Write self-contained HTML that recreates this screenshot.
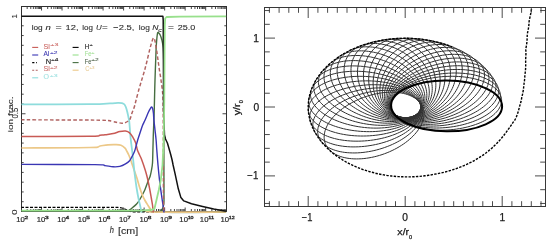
<!DOCTYPE html><html><head><meta charset="utf-8"><style>html,body{margin:0;padding:0;background:#fff;}svg{will-change:transform;}svg{display:block;}text{font-family:"Liberation Sans",sans-serif;}</style></head><body>
<svg width="550" height="244" viewBox="0 0 550 244">
<defs><clipPath id="lc"><rect x="21.5" y="6.5" width="205.0" height="206.8"/></clipPath><clipPath id="rc"><rect x="264.5" y="7.1" width="280.8" height="199.4"/></clipPath></defs>
<g stroke="#303030" stroke-width="1" fill="none">
<rect x="21.5" y="6.5" width="205.0" height="205.0"/>
<path d="M27.18 6.50v2.50 M27.18 211.50v-2.50 M30.79 6.50v2.50 M30.79 211.50v-2.50 M33.35 6.50v2.50 M33.35 211.50v-2.50 M35.34 6.50v2.50 M35.34 211.50v-2.50 M36.97 6.50v2.50 M36.97 211.50v-2.50 M38.34 6.50v2.50 M38.34 211.50v-2.50 M39.53 6.50v2.50 M39.53 211.50v-2.50 M40.58 6.50v2.50 M40.58 211.50v-2.50 M41.52 6.50v4.00 M41.52 211.50v-4.00 M47.70 6.50v2.50 M47.70 211.50v-2.50 M51.31 6.50v2.50 M51.31 211.50v-2.50 M53.87 6.50v2.50 M53.87 211.50v-2.50 M55.86 6.50v2.50 M55.86 211.50v-2.50 M57.49 6.50v2.50 M57.49 211.50v-2.50 M58.86 6.50v2.50 M58.86 211.50v-2.50 M60.05 6.50v2.50 M60.05 211.50v-2.50 M61.10 6.50v2.50 M61.10 211.50v-2.50 M62.04 6.50v4.00 M62.04 211.50v-4.00 M68.22 6.50v2.50 M68.22 211.50v-2.50 M71.83 6.50v2.50 M71.83 211.50v-2.50 M74.39 6.50v2.50 M74.39 211.50v-2.50 M76.38 6.50v2.50 M76.38 211.50v-2.50 M78.01 6.50v2.50 M78.01 211.50v-2.50 M79.38 6.50v2.50 M79.38 211.50v-2.50 M80.57 6.50v2.50 M80.57 211.50v-2.50 M81.62 6.50v2.50 M81.62 211.50v-2.50 M82.56 6.50v4.00 M82.56 211.50v-4.00 M88.74 6.50v2.50 M88.74 211.50v-2.50 M92.35 6.50v2.50 M92.35 211.50v-2.50 M94.91 6.50v2.50 M94.91 211.50v-2.50 M96.90 6.50v2.50 M96.90 211.50v-2.50 M98.53 6.50v2.50 M98.53 211.50v-2.50 M99.90 6.50v2.50 M99.90 211.50v-2.50 M101.09 6.50v2.50 M101.09 211.50v-2.50 M102.14 6.50v2.50 M102.14 211.50v-2.50 M103.08 6.50v4.00 M103.08 211.50v-4.00 M109.26 6.50v2.50 M109.26 211.50v-2.50 M112.87 6.50v2.50 M112.87 211.50v-2.50 M115.43 6.50v2.50 M115.43 211.50v-2.50 M117.42 6.50v2.50 M117.42 211.50v-2.50 M119.05 6.50v2.50 M119.05 211.50v-2.50 M120.42 6.50v2.50 M120.42 211.50v-2.50 M121.61 6.50v2.50 M121.61 211.50v-2.50 M122.66 6.50v2.50 M122.66 211.50v-2.50 M123.60 6.50v4.00 M123.60 211.50v-4.00 M129.78 6.50v2.50 M129.78 211.50v-2.50 M133.39 6.50v2.50 M133.39 211.50v-2.50 M135.95 6.50v2.50 M135.95 211.50v-2.50 M137.94 6.50v2.50 M137.94 211.50v-2.50 M139.57 6.50v2.50 M139.57 211.50v-2.50 M140.94 6.50v2.50 M140.94 211.50v-2.50 M142.13 6.50v2.50 M142.13 211.50v-2.50 M143.18 6.50v2.50 M143.18 211.50v-2.50 M144.12 6.50v4.00 M144.12 211.50v-4.00 M150.30 6.50v2.50 M150.30 211.50v-2.50 M153.91 6.50v2.50 M153.91 211.50v-2.50 M156.47 6.50v2.50 M156.47 211.50v-2.50 M158.46 6.50v2.50 M158.46 211.50v-2.50 M160.09 6.50v2.50 M160.09 211.50v-2.50 M161.46 6.50v2.50 M161.46 211.50v-2.50 M162.65 6.50v2.50 M162.65 211.50v-2.50 M163.70 6.50v2.50 M163.70 211.50v-2.50 M164.64 6.50v4.00 M164.64 211.50v-4.00 M170.82 6.50v2.50 M170.82 211.50v-2.50 M174.43 6.50v2.50 M174.43 211.50v-2.50 M176.99 6.50v2.50 M176.99 211.50v-2.50 M178.98 6.50v2.50 M178.98 211.50v-2.50 M180.61 6.50v2.50 M180.61 211.50v-2.50 M181.98 6.50v2.50 M181.98 211.50v-2.50 M183.17 6.50v2.50 M183.17 211.50v-2.50 M184.22 6.50v2.50 M184.22 211.50v-2.50 M185.16 6.50v4.00 M185.16 211.50v-4.00 M191.34 6.50v2.50 M191.34 211.50v-2.50 M194.95 6.50v2.50 M194.95 211.50v-2.50 M197.51 6.50v2.50 M197.51 211.50v-2.50 M199.50 6.50v2.50 M199.50 211.50v-2.50 M201.13 6.50v2.50 M201.13 211.50v-2.50 M202.50 6.50v2.50 M202.50 211.50v-2.50 M203.69 6.50v2.50 M203.69 211.50v-2.50 M204.74 6.50v2.50 M204.74 211.50v-2.50 M205.68 6.50v4.00 M205.68 211.50v-4.00 M211.86 6.50v2.50 M211.86 211.50v-2.50 M215.47 6.50v2.50 M215.47 211.50v-2.50 M218.03 6.50v2.50 M218.03 211.50v-2.50 M220.02 6.50v2.50 M220.02 211.50v-2.50 M221.65 6.50v2.50 M221.65 211.50v-2.50 M223.02 6.50v2.50 M223.02 211.50v-2.50 M224.21 6.50v2.50 M224.21 211.50v-2.50 M225.26 6.50v2.50 M225.26 211.50v-2.50 M21.50 201.72h2.20 M226.50 201.72h-2.20 M21.50 191.95h2.20 M226.50 191.95h-2.20 M21.50 182.18h2.20 M226.50 182.18h-2.20 M21.50 172.40h2.20 M226.50 172.40h-2.20 M21.50 162.62h2.20 M226.50 162.62h-2.20 M21.50 152.85h2.20 M226.50 152.85h-2.20 M21.50 143.07h2.20 M226.50 143.07h-2.20 M21.50 133.30h2.20 M226.50 133.30h-2.20 M21.50 123.52h2.20 M226.50 123.52h-2.20 M21.50 113.75h4.00 M226.50 113.75h-4.00 M21.50 103.97h2.20 M226.50 103.97h-2.20 M21.50 94.20h2.20 M226.50 94.20h-2.20 M21.50 84.42h2.20 M226.50 84.42h-2.20 M21.50 74.65h2.20 M226.50 74.65h-2.20 M21.50 64.88h2.20 M226.50 64.88h-2.20 M21.50 55.10h2.20 M226.50 55.10h-2.20 M21.50 45.32h2.20 M226.50 45.32h-2.20 M21.50 35.55h2.20 M226.50 35.55h-2.20 M21.50 25.77h2.20 M226.50 25.77h-2.20" stroke-width="0.9"/>
</g>
<g clip-path="url(#lc)" fill="none" stroke-linejoin="round">
<path d="M21.00 207.40 L118.00 207.40 L122.00 208.00 L126.00 209.50 L132.00 212.00 L226.20 212.00" stroke="#000" stroke-width="1.20" stroke-dasharray="3 1.5"/>
<path d="M21.00 210.60 C38.50 210.60 107.93 210.70 126.00 210.60 C144.07 210.50 128.23 210.57 129.40 210.00 C130.57 209.43 131.80 208.20 133.00 207.20 C134.20 206.20 135.52 205.20 136.60 204.00 C137.68 202.80 138.55 201.50 139.50 200.00 C140.45 198.50 141.38 196.75 142.30 195.00 C143.22 193.25 144.15 191.50 145.00 189.50 C145.85 187.50 146.73 184.75 147.40 183.00 C148.07 181.25 148.53 180.17 149.00 179.00 C149.47 177.83 149.78 177.50 150.20 176.00 C150.62 174.50 151.12 172.17 151.50 170.00 C151.88 167.83 152.27 166.33 152.50 163.00 C152.73 159.67 152.77 154.67 152.90 150.00 C153.03 145.33 153.10 140.83 153.30 135.00 C153.50 129.17 153.88 121.67 154.10 115.00 C154.32 108.33 154.45 100.83 154.60 95.00 C154.75 89.17 154.82 85.83 155.00 80.00 C155.18 74.17 155.50 65.50 155.70 60.00 C155.90 54.50 156.02 50.50 156.20 47.00 C156.38 43.50 156.62 41.08 156.80 39.00 C156.98 36.92 157.13 35.58 157.30 34.50 C157.47 33.42 157.58 32.78 157.80 32.50 C158.02 32.22 158.20 32.38 158.60 32.80 C159.00 33.22 159.65 33.80 160.20 35.00 C160.75 36.20 161.43 38.17 161.90 40.00 C162.37 41.83 162.73 44.00 163.00 46.00 C163.27 48.00 163.37 48.00 163.50 52.00 C163.63 56.00 163.73 58.67 163.80 70.00 C163.87 81.33 163.87 98.33 163.90 120.00 C163.93 141.67 163.82 184.67 164.00 200.00 C164.18 215.33 154.63 210.00 165.00 212.00 C175.37 214.00 216.00 212.00 226.20 212.00" stroke="#466e40" stroke-width="1.40"/>
<path d="M21.00 148.00 C32.50 147.92 76.83 147.83 90.00 147.50 C103.17 147.17 97.00 146.45 100.00 146.00 C103.00 145.55 105.33 145.03 108.00 144.80 C110.67 144.57 113.83 144.52 116.00 144.60 C118.17 144.68 119.50 144.70 121.00 145.30 C122.50 145.90 124.00 147.17 125.00 148.20 C126.00 149.23 126.33 150.28 127.00 151.50 C127.67 152.72 128.38 154.08 129.00 155.50 C129.62 156.92 130.13 158.42 130.70 160.00 C131.27 161.58 131.83 163.33 132.40 165.00 C132.97 166.67 133.35 167.83 134.10 170.00 C134.85 172.17 136.00 175.17 136.90 178.00 C137.80 180.83 138.60 184.17 139.50 187.00 C140.40 189.83 141.38 192.75 142.30 195.00 C143.22 197.25 144.03 198.75 145.00 200.50 C145.97 202.25 147.23 204.12 148.10 205.50 C148.97 206.88 149.57 207.72 150.20 208.80 C150.83 209.88 139.23 211.47 151.90 212.00 C164.57 212.53 213.82 212.00 226.20 212.00" stroke="#ecc888" stroke-width="1.70"/>
<path d="M21.00 104.30 C32.50 104.28 75.17 104.35 90.00 104.20 C104.83 104.05 105.33 103.62 110.00 103.40 C114.67 103.18 116.00 102.93 118.00 102.90 C120.00 102.87 120.92 102.93 122.00 103.20 C123.08 103.47 123.83 103.78 124.50 104.50 C125.17 105.22 125.53 106.25 126.00 107.50 C126.47 108.75 126.92 110.50 127.30 112.00 C127.68 113.50 127.98 115.00 128.30 116.50 C128.62 118.00 128.95 119.08 129.20 121.00 C129.45 122.92 129.60 125.50 129.80 128.00 C130.00 130.50 130.15 133.33 130.40 136.00 C130.65 138.67 130.98 141.33 131.30 144.00 C131.62 146.67 131.98 149.33 132.30 152.00 C132.62 154.67 132.92 157.33 133.20 160.00 C133.48 162.67 133.67 165.00 134.00 168.00 C134.33 171.00 134.77 174.67 135.20 178.00 C135.63 181.33 136.10 184.83 136.60 188.00 C137.10 191.17 137.63 194.17 138.20 197.00 C138.77 199.83 139.43 202.42 140.00 205.00 C140.57 207.58 141.33 211.25 141.60 212.50" stroke="#8edcdc" stroke-width="1.80"/>
<path d="M21.00 136.60 C32.50 136.55 76.83 136.52 90.00 136.30 C103.17 136.08 97.50 135.55 100.00 135.30 C102.50 135.05 102.80 135.08 105.00 134.80 C107.20 134.52 110.73 134.13 113.20 133.60 C115.67 133.07 117.75 132.02 119.80 131.60 C121.85 131.18 123.87 130.90 125.50 131.10 C127.13 131.30 128.37 131.77 129.60 132.80 C130.83 133.83 131.88 135.60 132.90 137.30 C133.92 139.00 134.95 140.88 135.70 143.00 C136.45 145.12 136.75 148.00 137.40 150.00 C138.05 152.00 138.87 153.33 139.60 155.00 C140.33 156.67 140.87 157.50 141.80 160.00 C142.73 162.50 144.27 167.00 145.20 170.00 C146.13 173.00 146.68 175.00 147.40 178.00 C148.12 181.00 148.85 184.67 149.50 188.00 C150.15 191.33 150.80 195.17 151.30 198.00 C151.80 200.83 152.17 202.58 152.50 205.00 C152.83 207.42 153.17 211.25 153.30 212.50" stroke="#c85a55" stroke-width="1.50"/>
<path d="M21.00 164.40 C33.33 164.43 81.00 164.40 95.00 164.60 C109.00 164.80 101.97 165.23 105.00 165.60 C108.03 165.97 110.73 166.67 113.20 166.80 C115.67 166.93 117.75 166.88 119.80 166.40 C121.85 165.92 123.87 164.85 125.50 163.90 C127.13 162.95 128.52 161.92 129.60 160.70 C130.68 159.48 131.18 158.12 132.00 156.60 C132.82 155.08 133.82 153.37 134.50 151.60 C135.18 149.83 135.57 147.93 136.10 146.00 C136.63 144.07 137.00 142.33 137.70 140.00 C138.40 137.67 139.47 134.50 140.30 132.00 C141.13 129.50 141.90 127.00 142.70 125.00 C143.50 123.00 144.13 122.17 145.10 120.00 C146.07 117.83 147.60 113.95 148.50 112.00 C149.40 110.05 149.98 109.13 150.50 108.30 C151.02 107.47 151.25 106.97 151.60 107.00 C151.95 107.03 152.30 107.50 152.60 108.50 C152.90 109.50 153.18 111.08 153.40 113.00 C153.62 114.92 153.63 117.17 153.90 120.00 C154.17 122.83 154.63 126.67 155.00 130.00 C155.37 133.33 155.80 136.67 156.10 140.00 C156.40 143.33 156.48 145.83 156.80 150.00 C157.12 154.17 157.55 160.00 158.00 165.00 C158.45 170.00 158.92 175.00 159.50 180.00 C160.08 185.00 160.92 190.83 161.50 195.00 C162.08 199.17 162.58 202.08 163.00 205.00 C163.42 207.92 163.83 211.25 164.00 212.50" stroke="#3a36b4" stroke-width="1.40"/>
<path d="M21.00 119.80 C34.17 119.87 84.83 119.92 100.00 120.20 C115.17 120.48 109.00 121.10 112.00 121.50 C115.00 121.90 116.33 122.32 118.00 122.60 C119.67 122.88 120.83 123.17 122.00 123.20 C123.17 123.23 124.08 123.08 125.00 122.80 C125.92 122.52 126.68 122.05 127.50 121.50 C128.32 120.95 129.15 120.92 129.90 119.50 C130.65 118.08 131.27 115.08 132.00 113.00 C132.73 110.92 133.62 109.17 134.30 107.00 C134.98 104.83 135.27 103.17 136.10 100.00 C136.93 96.83 138.32 91.50 139.30 88.00 C140.28 84.50 141.10 82.00 142.00 79.00 C142.90 76.00 143.87 73.00 144.70 70.00 C145.53 67.00 146.18 64.33 147.00 61.00 C147.82 57.67 148.85 53.00 149.60 50.00 C150.35 47.00 150.93 44.90 151.50 43.00 C152.07 41.10 152.58 39.40 153.00 38.60 C153.42 37.80 153.67 37.80 154.00 38.20 C154.33 38.60 154.57 39.03 155.00 41.00 C155.43 42.97 156.10 46.83 156.60 50.00 C157.10 53.17 157.53 56.67 158.00 60.00 C158.47 63.33 158.90 66.67 159.40 70.00 C159.90 73.33 160.52 76.67 161.00 80.00 C161.48 83.33 161.97 86.67 162.30 90.00 C162.63 93.33 162.83 93.33 163.00 100.00 C163.17 106.67 163.22 113.33 163.30 130.00 C163.38 146.67 163.33 186.25 163.50 200.00 C163.67 213.75 164.17 210.42 164.30 212.50" stroke="#b06260" stroke-width="1.45" stroke-dasharray="3.6 2.2"/>
<path d="M21.00 16.20 L162.90 16.20 L163.20 20.00 L163.40 60.00 L163.60 110.00 L164.10 125.00 L164.50 134.80 L165.50 139.00 L167.40 143.00 L169.00 148.50 L170.70 154.50 L172.10 160.00 L173.10 165.00 L175.00 173.30 L178.30 188.80 L180.90 197.60 L183.80 200.90 L191.50 203.80 L202.60 206.50 L213.70 209.10 L224.70 210.90 L226.20 211.30" stroke="#111" stroke-width="1.50"/>
<path d="M21.00 210.60 L140.00 210.60 L150.00 210.00 L153.00 209.50 L154.50 208.50 L156.50 200.00 L158.80 190.00 L160.80 180.00 L162.50 165.00 L163.70 140.00 L164.30 100.00 L164.60 50.00 L164.80 25.00 L165.20 18.50 L166.50 17.00 L180.00 16.60 L226.20 16.40" stroke="#98e08c" stroke-width="1.80"/>
</g>
<g fill="#2a2a2a" stroke="#2a2a2a" stroke-width="0.1">
<text x="16.30" y="222.00" font-size="7.30" textLength="8.60" lengthAdjust="spacingAndGlyphs" stroke-width="0.18">10</text>
<text x="24.60" y="219.40" font-size="4.20" textLength="3.70" lengthAdjust="spacingAndGlyphs" stroke-width="0.3">2</text>
<text x="36.82" y="222.00" font-size="7.30" textLength="8.60" lengthAdjust="spacingAndGlyphs" stroke-width="0.18">10</text>
<text x="45.12" y="219.40" font-size="4.20" textLength="3.70" lengthAdjust="spacingAndGlyphs" stroke-width="0.3">3</text>
<text x="57.34" y="222.00" font-size="7.30" textLength="8.60" lengthAdjust="spacingAndGlyphs" stroke-width="0.18">10</text>
<text x="65.64" y="219.40" font-size="4.20" textLength="3.70" lengthAdjust="spacingAndGlyphs" stroke-width="0.3">4</text>
<text x="77.86" y="222.00" font-size="7.30" textLength="8.60" lengthAdjust="spacingAndGlyphs" stroke-width="0.18">10</text>
<text x="86.16" y="219.40" font-size="4.20" textLength="3.70" lengthAdjust="spacingAndGlyphs" stroke-width="0.3">5</text>
<text x="98.38" y="222.00" font-size="7.30" textLength="8.60" lengthAdjust="spacingAndGlyphs" stroke-width="0.18">10</text>
<text x="106.68" y="219.40" font-size="4.20" textLength="3.70" lengthAdjust="spacingAndGlyphs" stroke-width="0.3">6</text>
<text x="118.90" y="222.00" font-size="7.30" textLength="8.60" lengthAdjust="spacingAndGlyphs" stroke-width="0.18">10</text>
<text x="127.20" y="219.40" font-size="4.20" textLength="3.70" lengthAdjust="spacingAndGlyphs" stroke-width="0.3">7</text>
<text x="139.42" y="222.00" font-size="7.30" textLength="8.60" lengthAdjust="spacingAndGlyphs" stroke-width="0.18">10</text>
<text x="147.72" y="219.40" font-size="4.20" textLength="3.70" lengthAdjust="spacingAndGlyphs" stroke-width="0.3">8</text>
<text x="159.94" y="222.00" font-size="7.30" textLength="8.60" lengthAdjust="spacingAndGlyphs" stroke-width="0.18">10</text>
<text x="168.24" y="219.40" font-size="4.20" textLength="3.70" lengthAdjust="spacingAndGlyphs" stroke-width="0.3">9</text>
<text x="179.36" y="222.00" font-size="7.30" textLength="8.60" lengthAdjust="spacingAndGlyphs" stroke-width="0.18">10</text>
<text x="187.66" y="219.40" font-size="4.20" textLength="5.90" lengthAdjust="spacingAndGlyphs" stroke-width="0.3">10</text>
<text x="199.88" y="222.00" font-size="7.30" textLength="8.60" lengthAdjust="spacingAndGlyphs" stroke-width="0.18">10</text>
<text x="208.18" y="219.40" font-size="4.20" textLength="5.90" lengthAdjust="spacingAndGlyphs" stroke-width="0.3">11</text>
<text x="220.40" y="222.00" font-size="7.30" textLength="8.60" lengthAdjust="spacingAndGlyphs" stroke-width="0.18">10</text>
<text x="228.70" y="219.40" font-size="4.20" textLength="5.90" lengthAdjust="spacingAndGlyphs" stroke-width="0.3">12</text>
<text x="109.75" y="233.40" font-size="8.40" textLength="4.20" lengthAdjust="spacingAndGlyphs" font-style="italic">h</text>
<text x="117.95" y="233.60" font-size="8.40" textLength="20.20" lengthAdjust="spacingAndGlyphs">[cm]</text>
<text transform="translate(17.4,16.2) rotate(-90)" text-anchor="middle" font-size="8">1</text>
<text transform="translate(18.2,113.1) rotate(-90)" text-anchor="middle" font-size="8.8" textLength="10.6" lengthAdjust="spacingAndGlyphs">0.5</text>
<text transform="translate(17.4,212.3) rotate(-90)" text-anchor="middle" font-size="8" textLength="5.6" lengthAdjust="spacingAndGlyphs">0</text>
<text transform="translate(12.6,114.3) rotate(-90)" text-anchor="middle" font-size="8" textLength="36" lengthAdjust="spacingAndGlyphs">ion frac.</text>
<text x="31.65" y="30.40" font-size="7.90" textLength="11.00" lengthAdjust="spacingAndGlyphs">log</text>
<text x="45.55" y="30.40" font-size="7.90" textLength="5.30" lengthAdjust="spacingAndGlyphs" font-style="italic">n</text>
<text x="55.55" y="30.40" font-size="7.90" textLength="6.20" lengthAdjust="spacingAndGlyphs">=</text>
<text x="65.55" y="30.40" font-size="7.90" textLength="13.00" lengthAdjust="spacingAndGlyphs">12,</text>
<text x="82.35" y="30.40" font-size="7.90" textLength="10.70" lengthAdjust="spacingAndGlyphs">log</text>
<text x="96.05" y="30.40" font-size="7.90" textLength="5.70" lengthAdjust="spacingAndGlyphs" font-style="italic">U</text>
<text x="101.95" y="30.40" font-size="7.90" textLength="5.70" lengthAdjust="spacingAndGlyphs">=</text>
<text x="113.25" y="30.40" font-size="7.90" textLength="5.30" lengthAdjust="spacingAndGlyphs">−</text>
<text x="118.75" y="30.40" font-size="7.90" textLength="15.70" lengthAdjust="spacingAndGlyphs">2.5,</text>
<text x="138.75" y="30.40" font-size="7.90" textLength="11.10" lengthAdjust="spacingAndGlyphs">log</text>
<text x="152.35" y="30.40" font-size="7.90" textLength="6.20" lengthAdjust="spacingAndGlyphs" font-style="italic">N</text>
<text x="168.05" y="30.40" font-size="7.90" textLength="5.90" lengthAdjust="spacingAndGlyphs">=</text>
<text x="177.85" y="30.40" font-size="7.90" textLength="17.50" lengthAdjust="spacingAndGlyphs">25.0</text>
<text x="158.25" y="32.30" font-size="5.40" textLength="3.50" lengthAdjust="spacingAndGlyphs" font-style="italic">c</text>
</g>
<path d="M32.2 47.40h6" stroke="#c85a55" stroke-width="1.1"/>
<text x="43.45" y="48.60" font-size="7.70" textLength="6.40" lengthAdjust="spacingAndGlyphs" fill="#cc6a66" stroke="#cc6a66" stroke-width="0.1">Si</text>
<text x="50.35" y="46.20" font-size="4.30" textLength="8.10" lengthAdjust="spacingAndGlyphs" fill="#cc6a66" stroke="#cc6a66" stroke-width="0.1">+3</text>
<path d="M32.2 55.00h6" stroke="#3a36b4" stroke-width="1.1"/>
<text x="43.45" y="56.20" font-size="7.70" textLength="5.90" lengthAdjust="spacingAndGlyphs" fill="#3a36b0" stroke="#3a36b0" stroke-width="0.1">Al</text>
<text x="49.95" y="53.80" font-size="4.30" textLength="7.60" lengthAdjust="spacingAndGlyphs" fill="#3a36b0" stroke="#3a36b0" stroke-width="0.1">+2</text>
<path d="M32.2 62.60h6" stroke="#000" stroke-width="1.1" stroke-dasharray="2.2 1.6 0.8 1.6"/>
<text x="45.65" y="63.80" font-size="7.70" textLength="5.40" lengthAdjust="spacingAndGlyphs" fill="#111" stroke="#111" stroke-width="0.1">N</text>
<text x="51.05" y="61.40" font-size="4.30" textLength="7.40" lengthAdjust="spacingAndGlyphs" fill="#111" stroke="#111" stroke-width="0.1">+4</text>
<path d="M32.2 70.20h6" stroke="#b06260" stroke-width="1.1" stroke-dasharray="2 1.5"/>
<text x="43.45" y="71.40" font-size="7.70" textLength="6.40" lengthAdjust="spacingAndGlyphs" fill="#cc7270" stroke="#cc7270" stroke-width="0.1">Si</text>
<text x="49.95" y="69.00" font-size="4.30" textLength="7.60" lengthAdjust="spacingAndGlyphs" fill="#cc7270" stroke="#cc7270" stroke-width="0.1">+2</text>
<path d="M32.2 77.80h6" stroke="#8edcdc" stroke-width="1.1"/>
<text x="43.45" y="79.00" font-size="7.70" textLength="5.50" lengthAdjust="spacingAndGlyphs" fill="#a2e2e2" stroke="#a2e2e2" stroke-width="0.1">O</text>
<text x="49.65" y="76.60" font-size="4.30" textLength="7.90" lengthAdjust="spacingAndGlyphs" fill="#a2e2e2" stroke="#a2e2e2" stroke-width="0.1">+3</text>
<path d="M72.6 47.40h6" stroke="#000" stroke-width="1.1"/>
<text x="84.85" y="48.60" font-size="7.70" textLength="4.50" lengthAdjust="spacingAndGlyphs" fill="#111" stroke="#111" stroke-width="0.1">H</text>
<text x="89.45" y="46.20" font-size="4.30" textLength="3.30" lengthAdjust="spacingAndGlyphs" fill="#111" stroke="#111" stroke-width="0.1">+</text>
<path d="M72.6 55.00h6" stroke="#98e08c" stroke-width="1.1"/>
<text x="84.85" y="56.20" font-size="7.70" textLength="6.50" lengthAdjust="spacingAndGlyphs" fill="#a4e098" stroke="#a4e098" stroke-width="0.1">Fe</text>
<text x="91.25" y="53.80" font-size="4.30" textLength="3.20" lengthAdjust="spacingAndGlyphs" fill="#a4e098" stroke="#a4e098" stroke-width="0.1">+</text>
<path d="M72.6 62.60h6" stroke="#466e40" stroke-width="1.1"/>
<text x="84.85" y="63.80" font-size="7.70" textLength="6.50" lengthAdjust="spacingAndGlyphs" fill="#4a5e46" stroke="#4a5e46" stroke-width="0.1">Fe</text>
<text x="91.25" y="61.40" font-size="4.30" textLength="7.50" lengthAdjust="spacingAndGlyphs" fill="#4a5e46" stroke="#4a5e46" stroke-width="0.1">+2</text>
<path d="M72.6 70.20h6" stroke="#ecc888" stroke-width="1.1"/>
<text x="85.15" y="71.40" font-size="7.70" textLength="4.20" lengthAdjust="spacingAndGlyphs" fill="#e8cc98" stroke="#e8cc98" stroke-width="0.1">C</text>
<text x="89.45" y="69.00" font-size="4.30" textLength="5.00" lengthAdjust="spacingAndGlyphs" fill="#e8cc98" stroke="#e8cc98" stroke-width="0.1">+3</text>
<g clip-path="url(#rc)" fill="none">
<path d="M501.40 98.18 L501.07 96.80 L500.60 95.44 L499.97 94.10 L499.19 92.78 L498.27 91.49 L497.21 90.24 L496.00 89.02 L494.66 87.84 L493.18 86.70 L491.58 85.61 L489.85 84.57 L488.00 83.58 L486.04 82.64 L483.97 81.75 L481.79 80.93 L479.52 80.17 L477.15 79.47 L474.70 78.84 L472.17 78.27 L469.57 77.77 L466.90 77.34 L464.18 76.99 L461.40 76.70 L458.59 76.49 L455.74 76.35 L452.87 76.28 L449.97 76.29 L447.07 76.38 L444.16 76.53 L441.26 76.76 L438.37 77.06 L435.50 77.44 L432.66 77.88 L429.86 78.39 L427.10 78.98 L424.39 79.63 L421.75 80.34 L419.17 81.11 L416.66 81.95 L414.24 82.85 L411.90 83.80 L409.65 84.80 L407.51 85.86 L405.47 86.96 L403.54 88.11 L401.73 89.30 L400.04 90.52 L398.48 91.79 L397.05 93.08 L395.75 94.40 L394.59 95.75 L393.57 97.11 L392.69 98.50 L391.96 99.89 L391.38 101.30 L390.95 102.71 L390.67 104.12 L390.54 105.53 L390.57 106.93 L390.74 108.33 L391.07 109.71 L391.55 111.07 L392.18 112.41 L392.95 113.72 L393.87 115.01 L394.94 116.26 L396.14 117.48 L397.48 118.66 L398.96 119.80 L400.56 120.89 L402.29 121.94 L404.14 122.93 L406.10 123.87 L408.18 124.75 L410.35 125.57 L412.63 126.33 L414.99 127.03 L417.44 127.67 L419.97 128.23 L422.58 128.73 L425.24 129.16 L427.97 129.52 L430.74 129.80 L433.55 130.01 L436.40 130.15 L439.28 130.22 L442.17 130.21 L445.08 130.13 L447.98 129.97 L450.89 129.74 L453.78 129.44 L456.64 129.07 L459.48 128.62 L462.29 128.11 L465.04 127.53 L467.75 126.88 L470.40 126.16 L472.98 125.39 L475.48 124.55 L477.91 123.66 L480.24 122.71 L482.49 121.70 L484.63 120.65 L486.67 119.54 L488.60 118.40 L490.41 117.21 L492.10 115.98 L493.66 114.72 L495.10 113.42 L496.40 112.10 L497.56 110.76 L498.58 109.39 L499.45 108.01 L500.18 106.61 L500.76 105.21 L501.19 103.80 L501.47 102.38 L501.60 100.97 L501.58 99.57 L501.40 98.18Z M499.78 91.71 L499.27 90.36 L498.61 89.03 L497.80 87.74 L496.86 86.48 L495.77 85.26 L494.54 84.08 L493.17 82.95 L491.68 81.87 L490.06 80.83 L488.31 79.85 L486.45 78.93 L484.48 78.07 L482.40 77.26 L480.22 76.52 L477.94 75.85 L475.57 75.25 L473.12 74.71 L470.59 74.24 L468.00 73.85 L465.34 73.53 L462.63 73.28 L459.87 73.11 L457.07 73.01 L454.24 72.99 L451.38 73.05 L448.51 73.18 L445.63 73.38 L442.75 73.66 L439.87 74.01 L437.02 74.44 L434.18 74.93 L431.37 75.50 L428.61 76.13 L425.88 76.83 L423.22 77.60 L420.61 78.43 L418.07 79.32 L415.61 80.27 L413.22 81.27 L410.93 82.33 L408.73 83.43 L406.63 84.58 L404.63 85.78 L402.75 87.02 L400.99 88.29 L399.34 89.60 L397.83 90.94 L396.44 92.30 L395.19 93.68 L394.07 95.09 L393.09 96.51 L392.26 97.94 L391.58 99.38 L391.04 100.82 L390.65 102.26 L390.41 103.69 L390.32 105.12 L390.38 106.53 L390.59 107.93 L390.96 109.30 L391.47 110.66 L392.13 111.98 L392.93 113.27 L393.88 114.53 L394.97 115.75 L396.20 116.93 L397.56 118.06 L399.06 119.15 L400.68 120.18 L402.42 121.16 L404.28 122.08 L406.26 122.95 L408.34 123.75 L410.52 124.49 L412.80 125.16 L415.17 125.77 L417.62 126.30 L420.14 126.77 L422.74 127.16 L425.40 127.48 L428.11 127.73 L430.87 127.90 L433.67 128.00 L436.50 128.02 L439.35 127.97 L442.23 127.84 L445.11 127.63 L447.99 127.35 L450.86 127.00 L453.72 126.58 L456.56 126.08 L459.36 125.52 L462.13 124.88 L464.85 124.18 L467.52 123.41 L470.13 122.58 L472.67 121.69 L475.13 120.75 L477.51 119.74 L479.81 118.69 L482.01 117.58 L484.11 116.43 L486.10 115.23 L487.99 113.99 L489.75 112.72 L491.39 111.41 L492.91 110.08 L494.30 108.71 L495.55 107.33 L496.67 105.92 L497.64 104.50 L498.47 103.07 L499.16 101.64 L499.70 100.20 L500.09 98.76 L500.33 97.32 L500.42 95.90 L500.36 94.48 L500.14 93.09 L499.78 91.71Z M497.24 85.26 L496.55 83.94 L495.71 82.67 L494.73 81.44 L493.61 80.25 L492.36 79.11 L490.98 78.02 L489.46 76.98 L487.83 76.01 L486.07 75.09 L484.20 74.23 L482.22 73.44 L480.14 72.72 L477.95 72.06 L475.68 71.48 L473.32 70.96 L470.88 70.52 L468.37 70.16 L465.79 69.87 L463.15 69.65 L460.46 69.52 L457.73 69.46 L454.96 69.48 L452.16 69.57 L449.33 69.75 L446.50 70.00 L443.66 70.32 L440.82 70.73 L437.99 71.20 L435.17 71.75 L432.38 72.37 L429.63 73.06 L426.91 73.82 L424.25 74.64 L421.63 75.53 L419.08 76.48 L416.60 77.48 L414.19 78.54 L411.87 79.66 L409.63 80.82 L407.49 82.03 L405.46 83.28 L403.52 84.58 L401.70 85.91 L400.00 87.27 L398.41 88.66 L396.96 90.07 L395.63 91.51 L394.44 92.96 L393.38 94.43 L392.46 95.91 L391.68 97.39 L391.05 98.87 L390.57 100.35 L390.23 101.82 L390.04 103.28 L390.00 104.73 L390.10 106.15 L390.36 107.56 L390.76 108.94 L391.31 110.28 L392.01 111.59 L392.84 112.87 L393.82 114.10 L394.94 115.29 L396.19 116.43 L397.58 117.52 L399.09 118.55 L400.73 119.53 L402.48 120.45 L404.35 121.30 L406.33 122.09 L408.42 122.82 L410.60 123.48 L412.87 124.06 L415.23 124.57 L417.67 125.01 L420.19 125.38 L422.76 125.67 L425.40 125.88 L428.09 126.02 L430.83 126.08 L433.60 126.06 L436.40 125.96 L439.22 125.79 L442.05 125.54 L444.90 125.21 L447.74 124.81 L450.57 124.33 L453.38 123.79 L456.17 123.17 L458.92 122.48 L461.64 121.72 L464.31 120.90 L466.92 120.01 L469.47 119.06 L471.95 118.06 L474.36 116.99 L476.68 115.88 L478.92 114.72 L481.06 113.51 L483.10 112.25 L485.03 110.96 L486.85 109.63 L488.56 108.27 L490.14 106.88 L491.60 105.46 L492.92 104.03 L494.12 102.57 L495.17 101.11 L496.09 99.63 L496.87 98.15 L497.50 96.67 L497.99 95.19 L498.33 93.72 L498.52 92.25 L498.56 90.81 L498.45 89.38 L498.20 87.98 L497.79 86.60 L497.24 85.26Z M493.76 78.88 L492.88 77.62 L491.87 76.41 L490.72 75.26 L489.44 74.15 L488.03 73.10 L486.50 72.12 L484.85 71.19 L483.09 70.33 L481.21 69.54 L479.23 68.82 L477.15 68.17 L474.97 67.60 L472.71 67.10 L470.36 66.67 L467.94 66.33 L465.45 66.06 L462.90 65.87 L460.29 65.77 L457.63 65.74 L454.94 65.79 L452.21 65.93 L449.45 66.14 L446.68 66.43 L443.89 66.80 L441.11 67.25 L438.32 67.78 L435.55 68.38 L432.80 69.05 L430.08 69.79 L427.39 70.61 L424.74 71.49 L422.15 72.43 L419.60 73.44 L417.13 74.51 L414.72 75.63 L412.39 76.81 L410.14 78.03 L407.99 79.30 L405.93 80.62 L403.96 81.98 L402.11 83.37 L400.37 84.79 L398.74 86.24 L397.24 87.72 L395.85 89.22 L394.60 90.73 L393.48 92.25 L392.50 93.78 L391.65 95.32 L390.94 96.85 L390.38 98.38 L389.95 99.90 L389.68 101.41 L389.55 102.90 L389.56 104.37 L389.72 105.81 L390.03 107.23 L390.48 108.61 L391.07 109.95 L391.81 111.25 L392.68 112.51 L393.70 113.72 L394.84 114.88 L396.12 115.98 L397.53 117.03 L399.06 118.02 L400.71 118.94 L402.48 119.80 L404.35 120.59 L406.33 121.31 L408.42 121.96 L410.59 122.54 L412.86 123.04 L415.20 123.46 L417.62 123.81 L420.11 124.07 L422.67 124.26 L425.27 124.37 L427.93 124.40 L430.63 124.34 L433.36 124.21 L436.11 124.00 L438.89 123.70 L441.67 123.33 L444.46 122.88 L447.24 122.36 L450.01 121.76 L452.76 121.09 L455.49 120.34 L458.18 119.53 L460.82 118.65 L463.42 117.70 L465.96 116.69 L468.44 115.63 L470.84 114.50 L473.17 113.33 L475.42 112.10 L477.58 110.83 L479.64 109.51 L481.60 108.16 L483.45 106.77 L485.20 105.34 L486.82 103.89 L488.33 102.41 L489.71 100.92 L490.96 99.41 L492.08 97.88 L493.07 96.35 L493.92 94.82 L494.62 93.28 L495.19 91.75 L495.61 90.23 L495.89 88.72 L496.02 87.23 L496.00 85.76 L495.84 84.32 L495.54 82.91 L495.09 81.53 L494.49 80.18 L493.76 78.88Z M489.30 72.67 L488.25 71.48 L487.07 70.34 L485.76 69.27 L484.33 68.26 L482.78 67.32 L481.11 66.45 L479.34 65.65 L477.46 64.92 L475.48 64.26 L473.40 63.69 L471.24 63.19 L468.99 62.77 L466.67 62.44 L464.27 62.18 L461.81 62.01 L459.29 61.93 L456.73 61.92 L454.12 62.00 L451.47 62.17 L448.79 62.41 L446.10 62.74 L443.38 63.15 L440.66 63.64 L437.95 64.21 L435.24 64.86 L432.54 65.58 L429.87 66.37 L427.23 67.24 L424.62 68.18 L422.06 69.18 L419.55 70.25 L417.10 71.37 L414.72 72.56 L412.41 73.80 L410.17 75.09 L408.02 76.43 L405.96 77.81 L403.99 79.23 L402.13 80.69 L400.37 82.18 L398.72 83.70 L397.19 85.24 L395.78 86.80 L394.49 88.38 L393.33 89.97 L392.30 91.57 L391.41 93.16 L390.64 94.76 L390.02 96.35 L389.54 97.93 L389.19 99.49 L388.99 101.04 L388.93 102.56 L389.01 104.05 L389.24 105.51 L389.60 106.94 L390.11 108.32 L390.75 109.66 L391.54 110.96 L392.46 112.20 L393.51 113.39 L394.69 114.53 L396.00 115.60 L397.43 116.61 L398.98 117.55 L400.64 118.42 L402.42 119.22 L404.30 119.95 L406.28 120.61 L408.35 121.18 L410.52 121.68 L412.76 122.10 L415.09 122.43 L417.48 122.69 L419.94 122.86 L422.46 122.94 L425.03 122.95 L427.64 122.87 L430.29 122.70 L432.96 122.46 L435.66 122.13 L438.37 121.72 L441.09 121.23 L443.81 120.66 L446.52 120.01 L449.21 119.29 L451.89 118.49 L454.53 117.63 L457.13 116.69 L459.69 115.69 L462.20 114.62 L464.65 113.49 L467.04 112.31 L469.35 111.07 L471.58 109.78 L473.74 108.44 L475.80 107.06 L477.76 105.64 L479.63 104.18 L481.38 102.69 L483.03 101.17 L484.56 99.63 L485.97 98.07 L487.26 96.49 L488.42 94.90 L489.45 93.30 L490.35 91.71 L491.11 90.11 L491.74 88.52 L492.22 86.94 L492.56 85.38 L492.77 83.83 L492.83 82.31 L492.74 80.82 L492.52 79.36 L492.15 77.93 L491.65 76.55 L491.00 75.21 L490.22 73.91 L489.30 72.67Z M483.87 66.69 L482.65 65.58 L481.31 64.54 L479.85 63.57 L478.28 62.67 L476.60 61.84 L474.81 61.10 L472.93 60.43 L470.95 59.84 L468.89 59.33 L466.74 58.91 L464.51 58.57 L462.21 58.32 L459.85 58.16 L457.43 58.08 L454.96 58.09 L452.44 58.19 L449.88 58.37 L447.30 58.64 L444.69 59.00 L442.06 59.44 L439.42 59.96 L436.78 60.57 L434.15 61.26 L431.53 62.02 L428.92 62.86 L426.35 63.78 L423.80 64.77 L421.30 65.82 L418.84 66.95 L416.44 68.13 L414.10 69.38 L411.83 70.68 L409.63 72.03 L407.51 73.43 L405.47 74.88 L403.53 76.37 L401.68 77.90 L399.93 79.46 L398.29 81.04 L396.75 82.66 L395.34 84.29 L394.04 85.94 L392.86 87.59 L391.81 89.26 L390.89 90.92 L390.09 92.59 L389.43 94.24 L388.91 95.89 L388.52 97.52 L388.27 99.12 L388.15 100.71 L388.18 102.26 L388.34 103.78 L388.64 105.26 L389.07 106.69 L389.65 108.09 L390.35 109.43 L391.19 110.72 L392.16 111.95 L393.25 113.12 L394.47 114.23 L395.81 115.27 L397.27 116.24 L398.84 117.14 L400.52 117.97 L402.31 118.71 L404.19 119.38 L406.17 119.97 L408.23 120.48 L410.38 120.90 L412.61 121.24 L414.91 121.49 L417.27 121.65 L419.69 121.73 L422.16 121.72 L424.68 121.62 L427.24 121.44 L429.82 121.17 L432.43 120.81 L435.06 120.37 L437.70 119.85 L440.34 119.24 L442.97 118.55 L445.59 117.79 L448.20 116.95 L450.77 116.03 L453.32 115.04 L455.82 113.99 L458.27 112.87 L460.68 111.68 L463.02 110.43 L465.29 109.13 L467.49 107.78 L469.61 106.38 L471.65 104.93 L473.59 103.44 L475.44 101.91 L477.19 100.35 L478.83 98.77 L480.37 97.15 L481.78 95.52 L483.08 93.87 L484.26 92.22 L485.31 90.55 L486.23 88.89 L487.03 87.22 L487.69 85.57 L488.21 83.92 L488.60 82.29 L488.85 80.69 L488.97 79.10 L488.94 77.55 L488.78 76.03 L488.48 74.55 L488.05 73.12 L487.47 71.72 L486.77 70.38 L485.93 69.09 L484.96 67.86 L483.87 66.69Z M477.46 61.03 L476.08 60.02 L474.59 59.09 L473.00 58.23 L471.30 57.45 L469.50 56.75 L467.62 56.14 L465.64 55.62 L463.59 55.18 L461.46 54.83 L459.26 54.57 L456.99 54.40 L454.67 54.32 L452.29 54.33 L449.87 54.44 L447.41 54.63 L444.92 54.92 L442.41 55.29 L439.87 55.75 L437.33 56.30 L434.78 56.93 L432.23 57.65 L429.70 58.45 L427.18 59.33 L424.68 60.29 L422.22 61.32 L419.79 62.42 L417.41 63.60 L415.07 64.83 L412.80 66.13 L410.58 67.49 L408.44 68.90 L406.37 70.37 L404.38 71.88 L402.48 73.43 L400.67 75.03 L398.96 76.65 L397.34 78.31 L395.84 79.99 L394.44 81.70 L393.15 83.41 L391.99 85.14 L390.94 86.88 L390.01 88.62 L389.21 90.35 L388.54 92.08 L388.00 93.80 L387.59 95.49 L387.31 97.17 L387.17 98.82 L387.16 100.44 L387.28 102.02 L387.53 103.56 L387.92 105.06 L388.44 106.51 L389.09 107.91 L389.86 109.25 L390.77 110.54 L391.79 111.76 L392.94 112.91 L394.20 114.00 L395.58 115.01 L397.07 115.94 L398.66 116.80 L400.36 117.58 L402.16 118.28 L404.04 118.89 L406.02 119.41 L408.07 119.85 L410.20 120.20 L412.40 120.46 L414.67 120.63 L416.99 120.71 L419.37 120.70 L421.79 120.59 L424.25 120.40 L426.74 120.11 L429.25 119.74 L431.79 119.28 L434.33 118.73 L436.88 118.10 L439.43 117.38 L441.96 116.58 L444.48 115.70 L446.98 114.74 L449.44 113.71 L451.87 112.61 L454.25 111.43 L456.59 110.20 L458.86 108.90 L461.08 107.54 L463.22 106.12 L465.29 104.66 L467.28 103.15 L469.18 101.59 L470.99 100.00 L472.70 98.37 L474.32 96.72 L475.82 95.04 L477.22 93.33 L478.51 91.61 L479.68 89.88 L480.72 88.15 L481.65 86.41 L482.45 84.67 L483.12 82.95 L483.66 81.23 L484.07 79.54 L484.35 77.86 L484.49 76.21 L484.50 74.59 L484.38 73.01 L484.13 71.47 L483.74 69.97 L483.22 68.52 L482.57 67.12 L481.80 65.77 L480.89 64.49 L479.87 63.27 L478.72 62.12 L477.46 61.03Z M470.09 55.79 L468.57 54.89 L466.95 54.07 L465.23 53.34 L463.42 52.69 L461.53 52.14 L459.56 51.67 L457.52 51.30 L455.41 51.02 L453.23 50.83 L451.00 50.74 L448.72 50.75 L446.40 50.84 L444.04 51.04 L441.65 51.32 L439.23 51.70 L436.80 52.18 L434.35 52.74 L431.90 53.39 L429.45 54.13 L427.01 54.95 L424.59 55.86 L422.18 56.85 L419.81 57.92 L417.47 59.06 L415.18 60.27 L412.93 61.56 L410.74 62.90 L408.60 64.31 L406.54 65.78 L404.54 67.30 L402.62 68.87 L400.79 70.48 L399.04 72.14 L397.38 73.83 L395.82 75.55 L394.36 77.30 L393.01 79.07 L391.76 80.86 L390.63 82.66 L389.61 84.47 L388.72 86.28 L387.94 88.08 L387.28 89.88 L386.75 91.67 L386.34 93.44 L386.07 95.19 L385.92 96.91 L385.89 98.59 L386.00 100.25 L386.23 101.86 L386.59 103.42 L387.08 104.94 L387.69 106.40 L388.43 107.80 L389.29 109.15 L390.26 110.42 L391.36 111.63 L392.56 112.77 L393.88 113.83 L395.30 114.81 L396.83 115.71 L398.45 116.53 L400.17 117.26 L401.97 117.91 L403.86 118.47 L405.83 118.93 L407.88 119.30 L409.99 119.58 L412.16 119.77 L414.39 119.86 L416.67 119.86 L418.99 119.76 L421.36 119.56 L423.75 119.28 L426.16 118.90 L428.60 118.43 L431.05 117.86 L433.50 117.21 L435.95 116.47 L438.38 115.65 L440.81 114.74 L443.21 113.75 L445.58 112.68 L447.92 111.54 L450.22 110.33 L452.46 109.05 L454.66 107.70 L456.79 106.29 L458.86 104.82 L460.85 103.30 L462.77 101.73 L464.61 100.12 L466.36 98.46 L468.01 96.77 L469.57 95.05 L471.03 93.30 L472.39 91.53 L473.63 89.74 L474.76 87.94 L475.78 86.14 L476.68 84.33 L477.46 82.52 L478.11 80.72 L478.65 78.93 L479.05 77.16 L479.33 75.42 L479.48 73.70 L479.50 72.01 L479.40 70.36 L479.16 68.74 L478.80 67.18 L478.31 65.66 L477.70 64.20 L476.96 62.80 L476.11 61.45 L475.13 60.18 L474.04 58.97 L472.83 57.83 L471.52 56.77 L470.09 55.79Z M461.81 51.05 L460.15 50.27 L458.41 49.58 L456.59 48.99 L454.69 48.49 L452.73 48.08 L450.69 47.77 L448.60 47.56 L446.46 47.44 L444.27 47.43 L442.04 47.51 L439.77 47.69 L437.47 47.97 L435.16 48.34 L432.82 48.81 L430.47 49.38 L428.12 50.04 L425.78 50.79 L423.44 51.63 L421.12 52.55 L418.82 53.56 L416.55 54.65 L414.31 55.82 L412.12 57.07 L409.97 58.38 L407.87 59.77 L405.84 61.22 L403.86 62.73 L401.96 64.29 L400.13 65.91 L398.38 67.58 L396.71 69.29 L395.14 71.04 L393.65 72.82 L392.27 74.63 L390.98 76.46 L389.80 78.32 L388.73 80.18 L387.77 82.06 L386.92 83.94 L386.19 85.81 L385.58 87.68 L385.08 89.54 L384.71 91.38 L384.46 93.20 L384.33 94.99 L384.32 96.75 L384.44 98.47 L384.68 100.15 L385.04 101.79 L385.52 103.37 L386.12 104.90 L386.84 106.37 L387.68 107.78 L388.63 109.12 L389.69 110.39 L390.86 111.58 L392.13 112.70 L393.51 113.73 L394.98 114.69 L396.55 115.55 L398.20 116.33 L399.94 117.02 L401.77 117.62 L403.66 118.12 L405.63 118.52 L407.66 118.83 L409.75 119.05 L411.89 119.16 L414.08 119.18 L416.32 119.09 L418.58 118.91 L420.88 118.64 L423.20 118.26 L425.54 117.79 L427.88 117.22 L430.23 116.57 L432.58 115.82 L434.91 114.98 L437.23 114.05 L439.53 113.04 L441.80 111.95 L444.04 110.78 L446.24 109.54 L448.38 108.22 L450.48 106.84 L452.52 105.39 L454.49 103.88 L456.40 102.31 L458.23 100.69 L459.98 99.02 L461.64 97.31 L463.22 95.57 L464.70 93.79 L466.09 91.97 L467.37 90.14 L468.55 88.29 L469.62 86.42 L470.59 84.55 L471.43 82.67 L472.17 80.79 L472.78 78.92 L473.27 77.06 L473.65 75.22 L473.90 73.41 L474.03 71.61 L474.04 69.85 L473.92 68.13 L473.68 66.45 L473.32 64.82 L472.84 63.23 L472.23 61.70 L471.51 60.23 L470.68 58.83 L469.73 57.49 L468.67 56.22 L467.50 55.02 L466.23 53.91 L464.85 52.87 L463.38 51.92 L461.81 51.05Z M452.66 46.91 L450.89 46.27 L449.05 45.72 L447.14 45.27 L445.17 44.92 L443.15 44.67 L441.08 44.53 L438.97 44.48 L436.82 44.54 L434.64 44.70 L432.43 44.95 L430.21 45.31 L427.97 45.77 L425.72 46.33 L423.47 46.98 L421.23 47.73 L418.99 48.57 L416.78 49.50 L414.59 50.52 L412.42 51.62 L410.30 52.81 L408.21 54.07 L406.17 55.41 L404.18 56.82 L402.25 58.30 L400.39 59.84 L398.59 61.45 L396.87 63.11 L395.22 64.81 L393.65 66.57 L392.18 68.36 L390.79 70.19 L389.50 72.06 L388.30 73.95 L387.21 75.86 L386.22 77.78 L385.34 79.72 L384.57 81.66 L383.91 83.60 L383.36 85.53 L382.93 87.46 L382.62 89.36 L382.42 91.25 L382.34 93.11 L382.37 94.94 L382.53 96.73 L382.80 98.48 L383.19 100.18 L383.69 101.83 L384.31 103.43 L385.04 104.97 L385.88 106.44 L386.82 107.85 L387.88 109.18 L389.03 110.43 L390.29 111.61 L391.64 112.71 L393.08 113.72 L394.62 114.64 L396.23 115.47 L397.93 116.21 L399.70 116.85 L401.54 117.40 L403.45 117.85 L405.41 118.19 L407.43 118.44 L409.50 118.59 L411.61 118.64 L413.76 118.58 L415.94 118.42 L418.15 118.16 L420.38 117.80 L422.62 117.35 L424.87 116.79 L427.12 116.14 L429.36 115.39 L431.59 114.55 L433.81 113.62 L436.00 112.60 L438.16 111.50 L440.29 110.31 L442.38 109.05 L444.42 107.71 L446.40 106.29 L448.33 104.82 L450.20 103.27 L452.00 101.67 L453.72 100.01 L455.37 98.30 L456.93 96.55 L458.41 94.75 L459.80 92.92 L461.09 91.06 L462.28 89.17 L463.37 87.26 L464.36 85.34 L465.24 83.40 L466.02 81.46 L466.68 79.52 L467.22 77.59 L467.65 75.66 L467.97 73.75 L468.17 71.87 L468.25 70.01 L468.21 68.18 L468.06 66.39 L467.79 64.64 L467.40 62.93 L466.90 61.28 L466.28 59.69 L465.55 58.15 L464.71 56.68 L463.76 55.27 L462.71 53.94 L461.55 52.68 L460.30 51.50 L458.94 50.41 L457.50 49.40 L455.97 48.48 L454.35 47.65 L452.66 46.91Z M442.71 43.46 L440.84 42.96 L438.93 42.57 L436.96 42.28 L434.95 42.09 L432.90 42.01 L430.82 42.03 L428.71 42.15 L426.58 42.38 L424.43 42.71 L422.28 43.15 L420.12 43.69 L417.97 44.32 L415.82 45.06 L413.69 45.89 L411.58 46.81 L409.50 47.83 L407.44 48.93 L405.43 50.12 L403.45 51.39 L401.53 52.74 L399.66 54.17 L397.85 55.66 L396.10 57.23 L394.42 58.85 L392.81 60.54 L391.28 62.28 L389.83 64.06 L388.47 65.89 L387.20 67.76 L386.02 69.67 L384.93 71.60 L383.95 73.56 L383.06 75.53 L382.28 77.52 L381.61 79.51 L381.05 81.50 L380.59 83.50 L380.25 85.48 L380.01 87.44 L379.90 89.39 L379.89 91.31 L379.99 93.20 L380.21 95.06 L380.54 96.87 L380.99 98.64 L381.54 100.36 L382.20 102.02 L382.96 103.62 L383.84 105.16 L384.81 106.63 L385.88 108.02 L387.05 109.34 L388.31 110.58 L389.66 111.74 L391.10 112.81 L392.62 113.79 L394.22 114.67 L395.89 115.47 L397.63 116.16 L399.44 116.76 L401.30 117.26 L403.22 117.65 L405.19 117.94 L407.20 118.13 L409.25 118.21 L411.33 118.19 L413.44 118.07 L415.57 117.84 L417.71 117.50 L419.87 117.07 L422.02 116.53 L424.18 115.90 L426.32 115.16 L428.45 114.33 L430.57 113.41 L432.65 112.39 L434.70 111.29 L436.72 110.10 L438.69 108.83 L440.62 107.48 L442.49 106.05 L444.30 104.55 L446.05 102.99 L447.73 101.37 L449.34 99.68 L450.87 97.94 L452.32 96.16 L453.68 94.32 L454.95 92.45 L456.13 90.55 L457.22 88.62 L458.20 86.66 L459.08 84.69 L459.86 82.70 L460.54 80.71 L461.10 78.71 L461.56 76.72 L461.90 74.74 L462.13 72.77 L462.25 70.83 L462.26 68.91 L462.15 67.01 L461.93 65.16 L461.60 63.35 L461.16 61.58 L460.61 59.86 L459.95 58.20 L459.18 56.60 L458.31 55.06 L457.34 53.59 L456.27 52.19 L455.10 50.87 L453.83 49.64 L452.48 48.48 L451.04 47.41 L449.52 46.43 L447.93 45.54 L446.25 44.75 L444.51 44.06 L442.71 43.46Z M432.06 40.79 L430.12 40.45 L428.15 40.22 L426.14 40.09 L424.11 40.07 L422.06 40.16 L420.00 40.35 L417.92 40.65 L415.84 41.05 L413.76 41.56 L411.69 42.17 L409.64 42.88 L407.60 43.69 L405.59 44.60 L403.60 45.60 L401.66 46.69 L399.75 47.87 L397.89 49.14 L396.08 50.48 L394.33 51.91 L392.64 53.41 L391.01 54.98 L389.45 56.62 L387.97 58.32 L386.57 60.07 L385.24 61.88 L384.01 63.73 L382.86 65.62 L381.81 67.56 L380.85 69.52 L379.99 71.51 L379.23 73.52 L378.57 75.54 L378.01 77.58 L377.57 79.61 L377.22 81.65 L376.99 83.68 L376.86 85.70 L376.85 87.69 L376.94 89.67 L377.14 91.61 L377.45 93.52 L377.86 95.39 L378.39 97.22 L379.01 98.99 L379.74 100.71 L380.57 102.37 L381.50 103.97 L382.53 105.50 L383.65 106.95 L384.85 108.33 L386.15 109.63 L387.53 110.85 L388.99 111.97 L390.52 113.01 L392.13 113.95 L393.80 114.80 L395.53 115.55 L397.33 116.20 L399.17 116.75 L401.07 117.19 L403.00 117.53 L404.97 117.77 L406.98 117.89 L409.01 117.91 L411.06 117.83 L413.13 117.64 L415.20 117.34 L417.28 116.93 L419.36 116.43 L421.43 115.82 L423.48 115.11 L425.52 114.30 L427.53 113.39 L429.52 112.39 L431.46 111.30 L433.37 110.12 L435.23 108.85 L437.04 107.50 L438.79 106.08 L440.49 104.58 L442.11 103.00 L443.67 101.37 L445.15 99.67 L446.55 97.92 L447.88 96.11 L449.11 94.26 L450.26 92.36 L451.31 90.43 L452.27 88.47 L453.13 86.48 L453.89 84.47 L454.55 82.44 L455.11 80.41 L455.56 78.37 L455.90 76.34 L456.13 74.31 L456.26 72.29 L456.27 70.29 L456.18 68.32 L455.98 66.38 L455.67 64.47 L455.26 62.60 L454.73 60.77 L454.11 59.00 L453.38 57.27 L452.55 55.61 L451.62 54.02 L450.59 52.49 L449.48 51.03 L448.27 49.65 L446.97 48.36 L445.59 47.14 L444.13 46.01 L442.60 44.98 L440.99 44.03 L439.32 43.18 L437.59 42.43 L435.79 41.79 L433.95 41.24 L432.06 40.79Z M420.81 39.00 L418.83 38.82 L416.83 38.76 L414.82 38.80 L412.80 38.95 L410.77 39.21 L408.75 39.57 L406.74 40.04 L404.74 40.62 L402.76 41.30 L400.80 42.08 L398.88 42.96 L396.99 43.93 L395.14 45.00 L393.33 46.16 L391.58 47.41 L389.88 48.75 L388.25 50.16 L386.67 51.65 L385.17 53.22 L383.74 54.85 L382.38 56.55 L381.11 58.30 L379.92 60.11 L378.82 61.97 L377.81 63.88 L376.89 65.82 L376.07 67.80 L375.34 69.81 L374.72 71.84 L374.19 73.89 L373.77 75.95 L373.46 78.02 L373.25 80.08 L373.14 82.14 L373.14 84.20 L373.25 86.23 L373.46 88.24 L373.78 90.23 L374.20 92.18 L374.73 94.10 L375.35 95.97 L376.08 97.79 L376.90 99.56 L377.82 101.27 L378.84 102.92 L379.94 104.50 L381.13 106.01 L382.40 107.44 L383.76 108.79 L385.19 110.06 L386.70 111.24 L388.27 112.33 L389.91 113.33 L391.61 114.23 L393.36 115.03 L395.17 115.73 L397.02 116.33 L398.91 116.82 L400.83 117.21 L402.79 117.49 L404.77 117.67 L406.77 117.74 L408.78 117.69 L410.81 117.54 L412.83 117.29 L414.85 116.92 L416.87 116.45 L418.87 115.87 L420.85 115.20 L422.80 114.42 L424.73 113.54 L426.62 112.56 L428.47 111.49 L430.27 110.33 L432.02 109.08 L433.72 107.75 L435.36 106.33 L436.93 104.84 L438.44 103.28 L439.87 101.64 L441.22 99.95 L442.50 98.19 L443.68 96.38 L444.79 94.52 L445.80 92.61 L446.72 90.67 L447.54 88.69 L448.26 86.68 L448.89 84.65 L449.41 82.60 L449.83 80.54 L450.15 78.48 L450.36 76.41 L450.46 74.35 L450.46 72.30 L450.36 70.26 L450.14 68.25 L449.83 66.26 L449.40 64.31 L448.88 62.40 L448.25 60.52 L447.53 58.70 L446.70 56.93 L445.78 55.22 L444.77 53.58 L443.67 52.00 L442.47 50.49 L441.20 49.06 L439.84 47.70 L438.41 46.44 L436.91 45.25 L435.33 44.16 L433.69 43.17 L432.00 42.27 L430.24 41.46 L428.44 40.76 L426.59 40.16 L424.70 39.67 L422.77 39.28 L420.81 39.00Z M409.12 38.16 L407.12 38.15 L405.12 38.26 L403.13 38.47 L401.14 38.80 L399.18 39.23 L397.23 39.76 L395.31 40.40 L393.42 41.15 L391.57 41.99 L389.76 42.93 L387.99 43.97 L386.28 45.10 L384.62 46.32 L383.03 47.63 L381.50 49.02 L380.04 50.49 L378.65 52.04 L377.35 53.65 L376.12 55.34 L374.97 57.08 L373.92 58.88 L372.95 60.74 L372.08 62.64 L371.30 64.58 L370.62 66.56 L370.04 68.57 L369.56 70.60 L369.18 72.66 L368.90 74.73 L368.73 76.81 L368.67 78.89 L368.71 80.97 L368.85 83.04 L369.10 85.10 L369.45 87.13 L369.90 89.14 L370.45 91.13 L371.11 93.07 L371.86 94.97 L372.71 96.83 L373.65 98.63 L374.68 100.38 L375.81 102.07 L377.01 103.69 L378.30 105.24 L379.67 106.71 L381.11 108.10 L382.62 109.42 L384.20 110.64 L385.84 111.78 L387.53 112.82 L389.28 113.77 L391.08 114.62 L392.92 115.37 L394.80 116.01 L396.72 116.55 L398.66 116.99 L400.62 117.32 L402.60 117.54 L404.59 117.65 L406.59 117.65 L408.59 117.55 L410.59 117.33 L412.57 117.01 L414.54 116.58 L416.48 116.04 L418.41 115.40 L420.30 114.66 L422.15 113.82 L423.96 112.87 L425.72 111.84 L427.43 110.70 L429.09 109.48 L430.68 108.17 L432.21 106.78 L433.67 105.31 L435.06 103.77 L436.37 102.15 L437.60 100.47 L438.74 98.73 L439.80 96.92 L440.76 95.07 L441.64 93.17 L442.41 91.23 L443.09 89.25 L443.68 87.24 L444.16 85.20 L444.53 83.15 L444.81 81.08 L444.98 79.00 L445.05 76.92 L445.01 74.84 L444.86 72.77 L444.62 70.71 L444.27 68.67 L443.81 66.66 L443.26 64.68 L442.60 62.74 L441.85 60.83 L441.00 58.98 L440.06 57.17 L439.03 55.43 L437.91 53.74 L436.70 52.12 L435.41 50.57 L434.05 49.10 L432.61 47.70 L431.10 46.39 L429.52 45.17 L427.88 44.03 L426.18 42.99 L424.43 42.04 L422.63 41.19 L420.79 40.44 L418.91 39.79 L417.00 39.25 L415.06 38.82 L413.09 38.49 L411.11 38.27 L409.12 38.16Z M397.13 38.34 L395.15 38.51 L393.18 38.79 L391.23 39.18 L389.32 39.67 L387.44 40.27 L385.60 40.98 L383.80 41.78 L382.05 42.69 L380.36 43.69 L378.72 44.78 L377.15 45.97 L375.64 47.24 L374.21 48.60 L372.85 50.03 L371.58 51.55 L370.38 53.14 L369.27 54.79 L368.25 56.51 L367.33 58.29 L366.49 60.12 L365.76 62.00 L365.12 63.93 L364.58 65.89 L364.14 67.89 L363.81 69.91 L363.58 71.96 L363.46 74.02 L363.44 76.09 L363.53 78.17 L363.72 80.25 L364.02 82.32 L364.42 84.38 L364.92 86.43 L365.52 88.45 L366.23 90.44 L367.03 92.40 L367.92 94.31 L368.91 96.19 L369.99 98.01 L371.15 99.78 L372.40 101.49 L373.73 103.13 L375.14 104.70 L376.62 106.21 L378.17 107.63 L379.78 108.97 L381.45 110.23 L383.18 111.40 L384.97 112.48 L386.79 113.47 L388.66 114.35 L390.56 115.14 L392.50 115.82 L394.46 116.41 L396.44 116.88 L398.43 117.25 L400.44 117.51 L402.45 117.67 L404.45 117.71 L406.45 117.65 L408.44 117.48 L410.41 117.20 L412.35 116.81 L414.26 116.31 L416.15 115.71 L417.99 115.01 L419.78 114.21 L421.53 113.30 L423.23 112.30 L424.86 111.21 L426.43 110.02 L427.94 108.75 L429.37 107.39 L430.73 105.95 L432.01 104.44 L433.20 102.85 L434.31 101.20 L435.33 99.48 L436.26 97.70 L437.09 95.87 L437.83 93.99 L438.47 92.06 L439.00 90.10 L439.44 88.10 L439.77 86.08 L440.00 84.03 L440.12 81.97 L440.14 79.89 L440.05 77.82 L439.86 75.74 L439.57 73.66 L439.17 71.60 L438.66 69.56 L438.06 67.54 L437.36 65.55 L436.56 63.59 L435.66 61.68 L434.67 59.80 L433.60 57.98 L432.43 56.21 L431.18 54.50 L429.85 52.86 L428.44 51.28 L426.96 49.78 L425.42 48.36 L423.80 47.01 L422.13 45.76 L420.40 44.59 L418.62 43.51 L416.79 42.52 L414.92 41.64 L413.02 40.85 L411.08 40.16 L409.12 39.58 L407.14 39.11 L405.15 38.74 L403.14 38.47 L401.14 38.32 L399.13 38.28 L397.13 38.34Z M385.03 39.61 L383.09 39.96 L381.18 40.41 L379.32 40.97 L377.50 41.63 L375.74 42.40 L374.04 43.26 L372.39 44.22 L370.82 45.27 L369.31 46.42 L367.88 47.65 L366.53 48.97 L365.26 50.36 L364.08 51.84 L362.99 53.39 L361.99 55.01 L361.08 56.69 L360.27 58.43 L359.56 60.23 L358.96 62.08 L358.45 63.97 L358.05 65.90 L357.76 67.87 L357.58 69.86 L357.50 71.88 L357.53 73.92 L357.66 75.97 L357.91 78.03 L358.25 80.09 L358.71 82.15 L359.27 84.19 L359.93 86.22 L360.69 88.23 L361.55 90.21 L362.51 92.17 L363.56 94.08 L364.70 95.95 L365.93 97.77 L367.24 99.54 L368.64 101.25 L370.11 102.90 L371.65 104.49 L373.26 106.00 L374.94 107.44 L376.68 108.80 L378.47 110.07 L380.31 111.26 L382.19 112.36 L384.12 113.36 L386.08 114.28 L388.07 115.09 L390.08 115.80 L392.11 116.41 L394.15 116.92 L396.20 117.32 L398.26 117.62 L400.30 117.80 L402.34 117.88 L404.36 117.86 L406.36 117.72 L408.34 117.48 L410.28 117.13 L412.18 116.68 L414.05 116.12 L415.86 115.45 L417.62 114.69 L419.33 113.83 L420.97 112.87 L422.55 111.82 L424.05 110.67 L425.48 109.44 L426.83 108.12 L428.10 106.72 L429.29 105.25 L430.38 103.70 L431.38 102.08 L432.29 100.40 L433.09 98.66 L433.80 96.86 L434.41 95.01 L434.91 93.12 L435.31 91.19 L435.60 89.22 L435.79 87.22 L435.87 85.20 L435.84 83.16 L435.70 81.11 L435.46 79.05 L435.11 76.99 L434.66 74.94 L434.10 72.89 L433.44 70.86 L432.67 68.85 L431.81 66.87 L430.86 64.92 L429.81 63.01 L428.67 61.14 L427.44 59.31 L426.12 57.54 L424.73 55.83 L423.26 54.18 L421.71 52.60 L420.10 51.09 L418.43 49.65 L416.69 48.29 L414.90 47.02 L413.06 45.83 L411.17 44.73 L409.25 43.72 L407.29 42.81 L405.30 42.00 L403.28 41.29 L401.25 40.67 L399.21 40.17 L397.16 39.77 L395.11 39.47 L393.06 39.28 L391.03 39.20 L389.00 39.23 L387.00 39.36 L385.03 39.61Z M373.01 42.00 L371.15 42.53 L369.34 43.15 L367.59 43.88 L365.91 44.70 L364.30 45.62 L362.76 46.63 L361.30 47.73 L359.93 48.92 L358.64 50.20 L357.44 51.55 L356.34 52.98 L355.33 54.48 L354.42 56.06 L353.62 57.69 L352.91 59.39 L352.32 61.14 L351.83 62.94 L351.45 64.79 L351.18 66.68 L351.02 68.60 L350.98 70.56 L351.04 72.54 L351.22 74.53 L351.50 76.55 L351.90 78.57 L352.41 80.59 L353.02 82.61 L353.74 84.62 L354.56 86.62 L355.48 88.60 L356.51 90.55 L357.63 92.47 L358.84 94.36 L360.14 96.21 L361.53 98.01 L363.00 99.76 L364.55 101.46 L366.17 103.09 L367.87 104.67 L369.63 106.17 L371.45 107.60 L373.32 108.95 L375.24 110.22 L377.21 111.41 L379.22 112.51 L381.26 113.53 L383.33 114.44 L385.43 115.27 L387.54 115.99 L389.66 116.61 L391.79 117.14 L393.91 117.56 L396.03 117.87 L398.14 118.08 L400.23 118.19 L402.30 118.19 L404.34 118.08 L406.34 117.87 L408.30 117.55 L410.22 117.13 L412.08 116.61 L413.89 115.98 L415.64 115.26 L417.32 114.44 L418.94 113.52 L420.47 112.51 L421.93 111.40 L423.31 110.21 L424.59 108.94 L425.79 107.59 L426.90 106.16 L427.90 104.65 L428.81 103.08 L429.62 101.44 L430.32 99.75 L430.91 98.00 L431.40 96.19 L431.78 94.35 L432.05 92.46 L432.21 90.53 L432.25 88.58 L432.19 86.60 L432.01 84.60 L431.73 82.59 L431.33 80.57 L430.82 78.55 L430.21 76.53 L429.49 74.52 L428.67 72.52 L427.75 70.54 L426.72 68.59 L425.60 66.66 L424.39 64.78 L423.09 62.93 L421.70 61.13 L420.23 59.37 L418.68 57.68 L417.06 56.04 L415.36 54.47 L413.60 52.97 L411.79 51.54 L409.91 50.19 L407.99 48.91 L406.02 47.72 L404.01 46.62 L401.97 45.61 L399.90 44.69 L397.80 43.87 L395.69 43.15 L393.57 42.52 L391.44 42.00 L389.32 41.58 L387.20 41.26 L385.09 41.05 L383.00 40.95 L380.93 40.95 L378.89 41.05 L376.89 41.27 L374.93 41.58 L373.01 42.00Z M361.31 45.56 L359.55 46.25 L357.87 47.04 L356.27 47.92 L354.75 48.90 L353.32 49.96 L351.98 51.11 L350.74 52.34 L349.59 53.64 L348.55 55.03 L347.61 56.48 L346.77 58.00 L346.05 59.59 L345.44 61.23 L344.94 62.93 L344.56 64.68 L344.29 66.47 L344.13 68.31 L344.10 70.17 L344.18 72.07 L344.38 74.00 L344.69 75.94 L345.12 77.89 L345.66 79.86 L346.32 81.83 L347.08 83.79 L347.95 85.75 L348.93 87.70 L350.02 89.63 L351.20 91.53 L352.48 93.41 L353.86 95.25 L355.32 97.05 L356.87 98.81 L358.51 100.53 L360.22 102.18 L362.00 103.78 L363.85 105.32 L365.76 106.79 L367.73 108.19 L369.75 109.52 L371.82 110.77 L373.93 111.93 L376.08 113.02 L378.25 114.01 L380.45 114.92 L382.66 115.73 L384.88 116.45 L387.11 117.07 L389.34 117.59 L391.56 118.01 L393.77 118.33 L395.96 118.55 L398.12 118.66 L400.25 118.68 L402.35 118.59 L404.40 118.39 L406.40 118.10 L408.35 117.70 L410.24 117.20 L412.06 116.60 L413.82 115.91 L415.50 115.12 L417.10 114.24 L418.62 113.27 L420.05 112.20 L421.39 111.06 L422.63 109.83 L423.78 108.52 L424.82 107.14 L425.76 105.68 L426.59 104.16 L427.32 102.57 L427.93 100.93 L428.43 99.23 L428.81 97.48 L429.08 95.69 L429.23 93.86 L429.27 91.99 L429.19 90.09 L428.99 88.17 L428.68 86.23 L428.25 84.27 L427.71 82.30 L427.05 80.33 L426.29 78.37 L425.41 76.41 L424.43 74.46 L423.35 72.53 L422.17 70.63 L420.88 68.75 L419.51 66.91 L418.04 65.11 L416.49 63.35 L414.86 61.64 L413.15 59.98 L411.37 58.38 L409.52 56.84 L407.61 55.37 L405.64 53.97 L403.61 52.64 L401.54 51.40 L399.44 50.23 L397.29 49.15 L395.12 48.15 L392.92 47.25 L390.71 46.43 L388.48 45.72 L386.26 45.10 L384.03 44.58 L381.81 44.15 L379.60 43.83 L377.41 43.62 L375.25 43.50 L373.12 43.49 L371.02 43.58 L368.97 43.77 L366.97 44.07 L365.02 44.46 L363.13 44.96 L361.31 45.56Z M350.14 50.27 L348.53 51.13 L347.01 52.07 L345.59 53.10 L344.26 54.21 L343.04 55.40 L341.93 56.66 L340.93 58.00 L340.04 59.41 L339.26 60.88 L338.60 62.41 L338.06 64.00 L337.64 65.64 L337.34 67.33 L337.17 69.06 L337.11 70.83 L337.18 72.64 L337.37 74.47 L337.69 76.32 L338.13 78.20 L338.68 80.09 L339.36 81.98 L340.15 83.88 L341.06 85.78 L342.08 87.67 L343.20 89.55 L344.44 91.41 L345.78 93.24 L347.21 95.05 L348.75 96.83 L350.37 98.57 L352.08 100.26 L353.87 101.91 L355.74 103.51 L357.68 105.05 L359.69 106.53 L361.76 107.95 L363.88 109.30 L366.05 110.57 L368.27 111.77 L370.53 112.90 L372.81 113.94 L375.12 114.89 L377.45 115.76 L379.80 116.54 L382.15 117.23 L384.49 117.82 L386.84 118.32 L389.16 118.73 L391.47 119.03 L393.75 119.24 L396.01 119.34 L398.22 119.35 L400.38 119.26 L402.50 119.07 L404.56 118.78 L406.56 118.39 L408.49 117.91 L410.35 117.33 L412.13 116.66 L413.83 115.89 L415.44 115.04 L416.96 114.09 L418.38 113.07 L419.71 111.96 L420.93 110.77 L422.04 109.50 L423.05 108.16 L423.94 106.76 L424.71 105.29 L425.37 103.75 L425.91 102.17 L426.33 100.52 L426.63 98.84 L426.81 97.10 L426.86 95.33 L426.79 93.53 L426.60 91.70 L426.28 89.84 L425.85 87.97 L425.29 86.08 L424.61 84.18 L423.82 82.28 L422.92 80.39 L421.90 78.50 L420.77 76.62 L419.53 74.76 L418.20 72.92 L416.76 71.11 L415.23 69.34 L413.60 67.60 L411.89 65.90 L410.10 64.26 L408.23 62.66 L406.29 61.12 L404.28 59.64 L402.22 58.22 L400.09 56.87 L397.92 55.59 L395.70 54.39 L393.45 53.27 L391.16 52.23 L388.85 51.27 L386.52 50.40 L384.18 49.62 L381.83 48.94 L379.48 48.34 L377.14 47.84 L374.81 47.44 L372.50 47.13 L370.22 46.93 L367.97 46.82 L365.76 46.81 L363.59 46.90 L361.47 47.10 L359.41 47.39 L357.41 47.77 L355.48 48.26 L353.62 48.84 L351.84 49.51 L350.14 50.27Z M339.77 56.13 L338.34 57.14 L337.01 58.22 L335.80 59.38 L334.70 60.61 L333.71 61.91 L332.85 63.27 L332.11 64.69 L331.50 66.17 L331.01 67.71 L330.65 69.29 L330.42 70.92 L330.31 72.58 L330.34 74.29 L330.50 76.02 L330.78 77.78 L331.20 79.56 L331.74 81.36 L332.41 83.17 L333.20 84.99 L334.11 86.81 L335.15 88.62 L336.29 90.43 L337.56 92.22 L338.93 93.99 L340.41 95.74 L341.99 97.47 L343.66 99.16 L345.44 100.81 L347.29 102.42 L349.24 103.99 L351.26 105.50 L353.35 106.96 L355.51 108.37 L357.73 109.71 L360.00 110.98 L362.32 112.18 L364.69 113.31 L367.09 114.37 L369.52 115.34 L371.97 116.24 L374.44 117.05 L376.91 117.77 L379.39 118.40 L381.86 118.95 L384.32 119.40 L386.76 119.76 L389.18 120.03 L391.57 120.20 L393.91 120.28 L396.22 120.26 L398.47 120.15 L400.66 119.94 L402.80 119.64 L404.86 119.25 L406.85 118.76 L408.75 118.18 L410.58 117.52 L412.31 116.76 L413.95 115.92 L415.48 115.00 L416.92 113.99 L418.24 112.91 L419.46 111.75 L420.56 110.52 L421.54 109.22 L422.40 107.86 L423.14 106.44 L423.76 104.96 L424.25 103.42 L424.61 101.84 L424.84 100.21 L424.94 98.54 L424.91 96.84 L424.76 95.11 L424.47 93.35 L424.06 91.56 L423.52 89.77 L422.85 87.96 L422.06 86.14 L421.14 84.32 L420.11 82.51 L418.96 80.70 L417.70 78.91 L416.33 77.14 L414.85 75.38 L413.27 73.66 L411.59 71.97 L409.82 70.32 L407.96 68.70 L406.02 67.14 L404.00 65.62 L401.91 64.16 L399.75 62.76 L397.53 61.42 L395.25 60.15 L392.93 58.95 L390.57 57.82 L388.17 56.76 L385.74 55.79 L383.29 54.89 L380.82 54.08 L378.35 53.36 L375.87 52.72 L373.40 52.18 L370.94 51.73 L368.49 51.36 L366.08 51.10 L363.69 50.92 L361.34 50.85 L359.04 50.86 L356.79 50.98 L354.59 51.18 L352.46 51.49 L350.40 51.88 L348.41 52.37 L346.50 52.95 L344.68 53.61 L342.95 54.37 L341.31 55.21 L339.77 56.13Z M330.45 63.09 L329.23 64.23 L328.12 65.43 L327.15 66.70 L326.29 68.03 L325.57 69.41 L324.99 70.85 L324.53 72.33 L324.21 73.86 L324.03 75.43 L323.98 77.03 L324.06 78.67 L324.29 80.33 L324.65 82.02 L325.14 83.72 L325.77 85.44 L326.53 87.16 L327.42 88.89 L328.43 90.62 L329.57 92.34 L330.83 94.05 L332.21 95.75 L333.70 97.42 L335.30 99.08 L337.01 100.70 L338.81 102.29 L340.71 103.84 L342.71 105.35 L344.79 106.81 L346.94 108.22 L349.17 109.58 L351.47 110.89 L353.83 112.13 L356.24 113.30 L358.71 114.41 L361.21 115.44 L363.74 116.41 L366.31 117.29 L368.89 118.10 L371.49 118.83 L374.09 119.47 L376.70 120.03 L379.29 120.50 L381.87 120.88 L384.43 121.18 L386.95 121.38 L389.45 121.50 L391.89 121.52 L394.29 121.46 L396.63 121.30 L398.91 121.06 L401.12 120.72 L403.26 120.30 L405.31 119.79 L407.28 119.19 L409.16 118.51 L410.93 117.75 L412.61 116.91 L414.18 115.99 L415.64 114.99 L416.98 113.92 L418.21 112.78 L419.31 111.58 L420.29 110.31 L421.14 108.98 L421.86 107.60 L422.45 106.16 L422.90 104.68 L423.22 103.15 L423.41 101.58 L423.46 99.98 L423.37 98.34 L423.15 96.68 L422.79 94.99 L422.29 93.29 L421.66 91.57 L420.91 89.85 L420.02 88.12 L419.00 86.39 L417.86 84.67 L416.60 82.96 L415.23 81.26 L413.74 79.59 L412.13 77.93 L410.43 76.31 L408.62 74.72 L406.72 73.17 L404.73 71.66 L402.65 70.20 L400.49 68.78 L398.26 67.43 L395.96 66.12 L393.60 64.88 L391.19 63.71 L388.73 62.60 L386.23 61.57 L383.69 60.60 L381.13 59.72 L378.54 58.91 L375.94 58.18 L373.34 57.54 L370.74 56.98 L368.14 56.51 L365.56 56.13 L363.01 55.83 L360.48 55.63 L357.99 55.51 L355.54 55.49 L353.14 55.55 L350.80 55.71 L348.52 55.95 L346.31 56.29 L344.17 56.71 L342.12 57.22 L340.15 57.82 L338.28 58.50 L336.50 59.26 L334.82 60.10 L333.25 61.02 L331.80 62.02 L330.45 63.09Z M322.44 71.06 L321.45 72.31 L320.60 73.62 L319.88 74.97 L319.31 76.38 L318.87 77.82 L318.57 79.30 L318.41 80.82 L318.40 82.37 L318.53 83.94 L318.80 85.54 L319.22 87.15 L319.77 88.77 L320.46 90.41 L321.29 92.05 L322.25 93.68 L323.35 95.32 L324.57 96.94 L325.92 98.55 L327.39 100.14 L328.98 101.71 L330.68 103.25 L332.49 104.76 L334.41 106.23 L336.42 107.67 L338.53 109.06 L340.72 110.41 L343.00 111.70 L345.35 112.94 L347.77 114.12 L350.25 115.24 L352.78 116.30 L355.36 117.29 L357.99 118.21 L360.65 119.06 L363.33 119.83 L366.04 120.53 L368.75 121.15 L371.48 121.69 L374.19 122.14 L376.90 122.52 L379.59 122.81 L382.25 123.01 L384.89 123.13 L387.48 123.16 L390.02 123.11 L392.51 122.97 L394.94 122.75 L397.31 122.44 L399.59 122.05 L401.80 121.58 L403.93 121.02 L405.96 120.39 L407.89 119.67 L409.72 118.88 L411.44 118.02 L413.05 117.09 L414.54 116.08 L415.92 115.01 L417.16 113.88 L418.28 112.68 L419.27 111.43 L420.12 110.12 L420.84 108.77 L421.42 107.37 L421.85 105.92 L422.15 104.44 L422.31 102.92 L422.32 101.38 L422.19 99.80 L421.92 98.21 L421.51 96.59 L420.95 94.97 L420.26 93.34 L419.43 91.70 L418.47 90.06 L417.37 88.43 L416.15 86.80 L414.80 85.19 L413.33 83.60 L411.74 82.04 L410.04 80.49 L408.23 78.98 L406.31 77.51 L404.30 76.07 L402.19 74.68 L400.00 73.34 L397.73 72.04 L395.38 70.80 L392.96 69.62 L390.48 68.50 L387.94 67.44 L385.36 66.45 L382.73 65.53 L380.07 64.68 L377.39 63.91 L374.68 63.21 L371.97 62.59 L369.25 62.06 L366.53 61.60 L363.82 61.23 L361.13 60.94 L358.47 60.73 L355.84 60.61 L353.24 60.58 L350.70 60.63 L348.21 60.77 L345.78 60.99 L343.42 61.30 L341.13 61.69 L338.92 62.16 L336.80 62.72 L334.77 63.35 L332.83 64.07 L331.00 64.86 L329.28 65.72 L327.67 66.66 L326.18 67.66 L324.81 68.73 L323.56 69.87 L322.44 71.06Z M315.99 79.94 L315.27 81.29 L314.69 82.67 L314.26 84.08 L313.97 85.53 L313.83 87.01 L313.83 88.51 L313.99 90.03 L314.29 91.56 L314.74 93.11 L315.33 94.66 L316.07 96.21 L316.95 97.77 L317.96 99.31 L319.12 100.85 L320.40 102.37 L321.82 103.88 L323.36 105.36 L325.02 106.81 L326.80 108.24 L328.70 109.63 L330.69 110.98 L332.79 112.29 L334.99 113.55 L337.27 114.77 L339.64 115.93 L342.09 117.04 L344.60 118.08 L347.18 119.07 L349.82 119.99 L352.50 120.85 L355.23 121.63 L357.99 122.35 L360.77 122.99 L363.58 123.55 L366.39 124.04 L369.21 124.45 L372.03 124.79 L374.83 125.04 L377.61 125.21 L380.37 125.30 L383.09 125.31 L385.77 125.24 L388.40 125.09 L390.97 124.85 L393.48 124.54 L395.92 124.15 L398.28 123.67 L400.56 123.13 L402.75 122.50 L404.84 121.80 L406.82 121.03 L408.71 120.20 L410.47 119.29 L412.13 118.32 L413.66 117.28 L415.06 116.19 L416.33 115.04 L417.47 113.84 L418.48 112.59 L419.34 111.29 L420.06 109.95 L420.64 108.57 L421.08 107.15 L421.37 105.70 L421.51 104.23 L421.50 102.73 L421.34 101.21 L421.04 99.67 L420.59 98.13 L420.00 96.57 L419.27 95.02 L418.39 93.47 L417.37 91.92 L416.22 90.38 L414.93 88.86 L413.51 87.35 L411.97 85.87 L410.31 84.42 L408.53 82.99 L406.64 81.60 L404.64 80.25 L402.54 78.94 L400.34 77.68 L398.06 76.47 L395.69 75.30 L393.25 74.20 L390.73 73.15 L388.15 72.16 L385.52 71.24 L382.83 70.39 L380.11 69.60 L377.35 68.89 L374.56 68.25 L371.76 67.68 L368.94 67.19 L366.12 66.78 L363.31 66.45 L360.50 66.19 L357.72 66.02 L354.96 65.93 L352.24 65.92 L349.56 65.99 L346.93 66.15 L344.36 66.38 L341.85 66.69 L339.41 67.09 L337.05 67.56 L334.78 68.11 L332.59 68.73 L330.50 69.43 L328.51 70.20 L326.63 71.04 L324.86 71.94 L323.21 72.91 L321.68 73.95 L320.27 75.04 L319.00 76.19 L317.86 77.39 L316.86 78.64 L315.99 79.94Z M311.35 89.59 L310.91 90.99 L310.62 92.42 L310.49 93.87 L310.50 95.34 L310.67 96.81 L310.99 98.30 L311.46 99.79 L312.07 101.27 L312.84 102.76 L313.75 104.23 L314.80 105.69 L315.99 107.14 L317.32 108.57 L318.78 109.97 L320.37 111.34 L322.08 112.68 L323.91 113.99 L325.86 115.25 L327.92 116.48 L330.08 117.65 L332.34 118.78 L334.69 119.86 L337.12 120.88 L339.63 121.84 L342.22 122.74 L344.87 123.58 L347.57 124.36 L350.33 125.06 L353.13 125.70 L355.96 126.26 L358.82 126.75 L361.70 127.17 L364.59 127.51 L367.48 127.78 L370.37 127.97 L373.25 128.08 L376.10 128.11 L378.93 128.07 L381.72 127.94 L384.46 127.74 L387.16 127.47 L389.80 127.11 L392.37 126.69 L394.86 126.18 L397.28 125.61 L399.61 124.96 L401.85 124.25 L403.99 123.47 L406.02 122.62 L407.95 121.71 L409.76 120.74 L411.44 119.71 L413.01 118.62 L414.44 117.49 L415.74 116.30 L416.90 115.07 L417.92 113.80 L418.80 112.49 L419.54 111.15 L420.12 109.77 L420.56 108.36 L420.85 106.93 L420.98 105.49 L420.97 104.02 L420.80 102.54 L420.48 101.06 L420.01 99.57 L419.39 98.08 L418.63 96.60 L417.72 95.13 L416.67 93.66 L415.48 92.22 L414.15 90.79 L412.69 89.39 L411.10 88.02 L409.39 86.68 L407.56 85.37 L405.61 84.10 L403.55 82.88 L401.39 81.70 L399.13 80.58 L396.78 79.50 L394.35 78.48 L391.84 77.52 L389.25 76.61 L386.60 75.78 L383.90 75.00 L381.14 74.30 L378.34 73.66 L375.51 73.10 L372.65 72.61 L369.77 72.19 L366.88 71.85 L363.99 71.58 L361.10 71.39 L358.22 71.28 L355.37 71.25 L352.54 71.29 L349.75 71.41 L347.01 71.61 L344.31 71.89 L341.67 72.24 L339.10 72.67 L336.61 73.17 L334.19 73.75 L331.86 74.39 L329.62 75.11 L327.48 75.89 L325.44 76.74 L323.52 77.65 L321.71 78.62 L320.02 79.65 L318.46 80.73 L317.03 81.87 L315.73 83.05 L314.57 84.28 L313.55 85.56 L312.67 86.87 L311.93 88.21 L311.35 89.59Z M308.73 99.82 L308.59 101.26 L308.61 102.71 L308.79 104.15 L309.11 105.60 L309.59 107.05 L310.22 108.48 L311.00 109.91 L311.92 111.31 L312.99 112.70 L314.20 114.06 L315.55 115.40 L317.04 116.70 L318.65 117.97 L320.39 119.20 L322.26 120.39 L324.23 121.54 L326.32 122.63 L328.52 123.68 L330.81 124.67 L333.20 125.60 L335.67 126.48 L338.22 127.29 L340.85 128.04 L343.54 128.72 L346.28 129.34 L349.08 129.88 L351.92 130.36 L354.80 130.76 L357.70 131.09 L360.62 131.35 L363.55 131.53 L366.49 131.63 L369.42 131.66 L372.34 131.62 L375.23 131.49 L378.10 131.29 L380.93 131.02 L383.72 130.67 L386.45 130.25 L389.13 129.76 L391.73 129.20 L394.27 128.57 L396.72 127.87 L399.08 127.10 L401.35 126.28 L403.52 125.39 L405.58 124.44 L407.53 123.43 L409.36 122.38 L411.07 121.27 L412.66 120.11 L414.11 118.92 L415.42 117.67 L416.60 116.40 L417.63 115.09 L418.52 113.74 L419.26 112.37 L419.86 110.98 L420.30 109.57 L420.58 108.14 L420.72 106.71 L420.70 105.26 L420.53 103.81 L420.20 102.36 L419.72 100.92 L419.09 99.48 L418.32 98.06 L417.39 96.65 L416.32 95.27 L415.11 93.90 L413.76 92.57 L412.27 91.27 L410.66 90.00 L408.92 88.77 L407.06 87.58 L405.08 86.43 L402.99 85.34 L400.79 84.29 L398.50 83.30 L396.11 82.37 L393.64 81.49 L391.09 80.68 L388.47 79.93 L385.78 79.24 L383.03 78.63 L380.23 78.08 L377.39 77.61 L374.52 77.20 L371.61 76.87 L368.69 76.62 L365.76 76.44 L362.82 76.33 L359.89 76.30 L356.97 76.35 L354.08 76.47 L351.21 76.67 L348.38 76.95 L345.59 77.29 L342.86 77.71 L340.19 78.20 L337.58 78.77 L335.05 79.40 L332.60 80.10 L330.23 80.86 L327.96 81.69 L325.79 82.58 L323.73 83.53 L321.78 84.53 L319.95 85.59 L318.24 86.70 L316.66 87.85 L315.20 89.05 L313.89 90.29 L312.71 91.57 L311.68 92.88 L310.79 94.22 L310.05 95.59 L309.46 96.98 L309.02 98.40 L308.73 99.82Z M308.32 110.43 L308.50 111.87 L308.83 113.29 L309.31 114.71 L309.95 116.11 L310.73 117.48 L311.67 118.84 L312.74 120.16 L313.96 121.45 L315.32 122.71 L316.81 123.92 L318.44 125.10 L320.19 126.23 L322.06 127.31 L324.04 128.33 L326.14 129.31 L328.35 130.22 L330.65 131.08 L333.04 131.87 L335.53 132.60 L338.09 133.27 L340.72 133.87 L343.42 134.39 L346.17 134.85 L348.98 135.23 L351.83 135.54 L354.71 135.77 L357.63 135.93 L360.55 136.02 L363.50 136.03 L366.44 135.96 L369.38 135.82 L372.30 135.60 L375.20 135.31 L378.08 134.95 L380.92 134.51 L383.71 134.00 L386.45 133.42 L389.13 132.77 L391.74 132.06 L394.27 131.28 L396.73 130.44 L399.10 129.54 L401.37 128.58 L403.54 127.56 L405.60 126.49 L407.56 125.38 L409.39 124.21 L411.10 123.01 L412.68 121.76 L414.13 120.48 L415.45 119.16 L416.62 117.82 L417.66 116.45 L418.54 115.05 L419.28 113.64 L419.87 112.22 L420.31 110.78 L420.59 109.34 L420.72 107.89 L420.70 106.45 L420.52 105.01 L420.19 103.59 L419.70 102.17 L419.07 100.77 L418.28 99.40 L417.35 98.04 L416.27 96.72 L415.05 95.43 L413.70 94.17 L412.20 92.96 L410.58 91.78 L408.83 90.65 L406.96 89.57 L404.97 88.55 L402.87 87.57 L400.67 86.66 L398.37 85.80 L395.97 85.01 L393.49 84.28 L390.93 83.61 L388.30 83.02 L385.60 82.49 L382.84 82.03 L380.04 81.65 L377.19 81.34 L374.30 81.11 L371.39 80.95 L368.46 80.86 L365.52 80.85 L362.58 80.92 L359.64 81.06 L356.72 81.28 L353.81 81.57 L350.94 81.93 L348.10 82.37 L345.31 82.88 L342.57 83.46 L339.89 84.11 L337.28 84.82 L334.74 85.60 L332.29 86.44 L329.92 87.34 L327.65 88.30 L325.48 89.32 L323.41 90.39 L321.46 91.50 L319.63 92.67 L317.92 93.87 L316.33 95.12 L314.88 96.40 L313.57 97.72 L312.39 99.06 L311.36 100.43 L310.47 101.83 L309.74 103.24 L309.15 104.66 L308.71 106.10 L308.43 107.54 L308.30 108.99 L308.32 110.43Z M310.27 121.16 L310.77 122.57 L311.41 123.94 L312.20 125.29 L313.14 126.60 L314.22 127.87 L315.44 129.11 L316.79 130.30 L318.28 131.44 L319.90 132.53 L321.64 133.57 L323.51 134.55 L325.49 135.47 L327.57 136.33 L329.76 137.13 L332.05 137.85 L334.43 138.52 L336.90 139.11 L339.44 139.63 L342.05 140.07 L344.73 140.45 L347.46 140.74 L350.25 140.96 L353.07 141.11 L355.93 141.17 L358.81 141.16 L361.71 141.07 L364.62 140.91 L367.54 140.67 L370.44 140.35 L373.34 139.95 L376.21 139.49 L379.05 138.95 L381.86 138.34 L384.62 137.66 L387.32 136.91 L389.97 136.09 L392.55 135.22 L395.05 134.28 L397.47 133.28 L399.81 132.23 L402.05 131.12 L404.19 129.97 L406.22 128.76 L408.14 127.52 L409.95 126.23 L411.63 124.91 L413.18 123.56 L414.61 122.17 L415.90 120.76 L417.05 119.33 L418.05 117.89 L418.92 116.42 L419.64 114.95 L420.20 113.48 L420.62 112.00 L420.89 110.52 L421.00 109.05 L420.96 107.60 L420.77 106.15 L420.43 104.73 L419.94 103.33 L419.29 101.95 L418.50 100.60 L417.57 99.29 L416.49 98.02 L415.27 96.78 L413.91 95.59 L412.42 94.45 L410.80 93.36 L409.06 92.32 L407.20 91.34 L405.22 90.42 L403.13 89.56 L400.94 88.77 L398.65 88.04 L396.27 87.37 L393.81 86.78 L391.26 86.26 L388.65 85.82 L385.97 85.45 L383.24 85.15 L380.46 84.93 L377.63 84.78 L374.78 84.72 L371.89 84.73 L368.99 84.82 L366.08 84.98 L363.17 85.22 L360.26 85.54 L357.36 85.94 L354.49 86.40 L351.65 86.94 L348.85 87.55 L346.09 88.23 L343.38 88.98 L340.73 89.80 L338.16 90.67 L335.65 91.61 L333.23 92.61 L330.89 93.66 L328.65 94.77 L326.51 95.92 L324.48 97.13 L322.56 98.37 L320.76 99.66 L319.07 100.98 L317.52 102.33 L316.10 103.72 L314.81 105.13 L313.66 106.56 L312.65 108.01 L311.78 109.47 L311.07 110.94 L310.50 112.41 L310.08 113.89 L309.81 115.37 L309.70 116.84 L309.74 118.30 L309.93 119.74 L310.27 121.16Z M314.68 131.75 L315.48 133.08 L316.43 134.37 L317.51 135.61 L318.73 136.80 L320.08 137.94 L321.57 139.02 L323.18 140.04 L324.91 141.00 L326.75 141.90 L328.71 142.73 L330.77 143.48 L332.93 144.17 L335.18 144.79 L337.53 145.32 L339.95 145.79 L342.45 146.17 L345.02 146.47 L347.65 146.70 L350.33 146.85 L353.06 146.91 L355.82 146.89 L358.62 146.80 L361.44 146.62 L364.28 146.36 L367.13 146.02 L369.97 145.60 L372.81 145.11 L375.63 144.54 L378.43 143.90 L381.20 143.18 L383.94 142.39 L386.62 141.54 L389.25 140.62 L391.82 139.63 L394.33 138.58 L396.76 137.48 L399.11 136.32 L401.37 135.11 L403.54 133.85 L405.60 132.54 L407.57 131.19 L409.42 129.81 L411.16 128.39 L412.77 126.94 L414.27 125.47 L415.63 123.97 L416.86 122.45 L417.95 120.92 L418.91 119.38 L419.72 117.84 L420.39 116.29 L420.91 114.75 L421.29 113.21 L421.52 111.69 L421.60 110.18 L421.53 108.69 L421.31 107.23 L420.94 105.79 L420.43 104.39 L419.77 103.02 L418.97 101.69 L418.02 100.40 L416.94 99.16 L415.72 97.97 L414.36 96.83 L412.88 95.75 L411.27 94.73 L409.54 93.77 L407.70 92.87 L405.74 92.04 L403.68 91.28 L401.52 90.60 L399.26 89.98 L396.92 89.45 L394.49 88.98 L391.99 88.60 L389.43 88.29 L386.80 88.07 L384.12 87.92 L381.39 87.86 L378.62 87.88 L375.82 87.97 L373.00 88.15 L370.16 88.41 L367.32 88.75 L364.47 89.16 L361.63 89.66 L358.81 90.23 L356.01 90.87 L353.24 91.59 L350.51 92.37 L347.83 93.23 L345.19 94.15 L342.62 95.14 L340.12 96.19 L337.69 97.29 L335.34 98.45 L333.08 99.66 L330.91 100.92 L328.84 102.23 L326.88 103.58 L325.03 104.96 L323.29 106.38 L321.67 107.83 L320.18 109.30 L318.82 110.80 L317.59 112.32 L316.49 113.85 L315.54 115.38 L314.73 116.93 L314.06 118.48 L313.53 120.02 L313.16 121.55 L312.93 123.08 L312.85 124.59 L312.92 126.08 L313.14 127.54 L313.50 128.98 L314.02 130.38 L314.68 131.75Z M321.56 141.90 L322.66 143.12 L323.89 144.28 L325.25 145.38 L326.73 146.42 L328.33 147.39 L330.04 148.28 L331.87 149.11 L333.79 149.86 L335.82 150.53 L337.94 151.12 L340.15 151.63 L342.45 152.06 L344.81 152.41 L347.25 152.67 L349.75 152.84 L352.31 152.93 L354.91 152.94 L357.56 152.86 L360.24 152.69 L362.95 152.44 L365.68 152.10 L368.42 151.68 L371.16 151.18 L373.90 150.60 L376.63 149.94 L379.35 149.20 L382.04 148.38 L384.69 147.49 L387.31 146.53 L389.88 145.50 L392.39 144.41 L394.85 143.25 L397.23 142.04 L399.54 140.77 L401.78 139.45 L403.92 138.07 L405.97 136.66 L407.93 135.20 L409.78 133.70 L411.52 132.17 L413.15 130.61 L414.66 129.03 L416.04 127.43 L417.31 125.81 L418.44 124.18 L419.44 122.54 L420.31 120.90 L421.03 119.27 L421.62 117.64 L422.07 116.02 L422.37 114.41 L422.54 112.83 L422.55 111.27 L422.43 109.73 L422.16 108.23 L421.75 106.77 L421.20 105.35 L420.50 103.97 L419.67 102.64 L418.70 101.36 L417.61 100.14 L416.38 98.98 L415.02 97.88 L413.54 96.84 L411.94 95.88 L410.23 94.98 L408.40 94.16 L406.48 93.41 L404.45 92.74 L402.33 92.14 L400.12 91.63 L397.82 91.20 L395.46 90.86 L393.02 90.60 L390.52 90.42 L387.96 90.33 L385.36 90.33 L382.71 90.41 L380.03 90.57 L377.32 90.82 L374.59 91.16 L371.85 91.58 L369.11 92.08 L366.37 92.67 L363.63 93.33 L360.92 94.07 L358.23 94.88 L355.58 95.77 L352.96 96.73 L350.39 97.76 L347.88 98.85 L345.42 100.01 L343.04 101.22 L340.72 102.50 L338.49 103.82 L336.35 105.19 L334.30 106.61 L332.34 108.07 L330.49 109.56 L328.75 111.09 L327.12 112.65 L325.61 114.23 L324.22 115.83 L322.96 117.45 L321.83 119.08 L320.83 120.72 L319.96 122.36 L319.24 124.00 L318.65 125.63 L318.20 127.25 L317.89 128.85 L317.73 130.44 L317.71 132.00 L317.84 133.53 L318.11 135.03 L318.52 136.49 L319.07 137.92 L319.77 139.29 L320.60 140.62 L321.56 141.90Z M330.89 151.29 L332.27 152.36 L333.75 153.37 L335.35 154.29 L337.05 155.14 L338.86 155.91 L340.76 156.59 L342.75 157.19 L344.83 157.70 L346.99 158.13 L349.23 158.46 L351.53 158.71 L353.89 158.86 L356.31 158.92 L358.77 158.89 L361.28 158.77 L363.83 158.56 L366.40 158.26 L368.99 157.87 L371.60 157.39 L374.21 156.82 L376.83 156.17 L379.43 155.43 L382.02 154.61 L384.59 153.71 L387.13 152.74 L389.64 151.69 L392.10 150.56 L394.51 149.37 L396.87 148.12 L399.16 146.80 L401.39 145.42 L403.54 143.99 L405.61 142.51 L407.59 140.99 L409.48 139.42 L411.27 137.81 L412.97 136.17 L414.55 134.50 L416.03 132.80 L417.39 131.09 L418.63 129.36 L419.74 127.62 L420.74 125.87 L421.60 124.13 L422.34 122.38 L422.94 120.65 L423.41 118.93 L423.74 117.23 L423.94 115.55 L424.00 113.89 L423.93 112.27 L423.71 110.69 L423.36 109.15 L422.88 107.65 L422.26 106.20 L421.51 104.80 L420.63 103.47 L419.62 102.19 L418.49 100.97 L417.24 99.83 L415.87 98.75 L414.38 97.75 L412.78 96.82 L411.08 95.97 L409.27 95.20 L407.37 94.52 L405.38 93.92 L403.30 93.41 L401.14 92.99 L398.91 92.65 L396.60 92.41 L394.24 92.25 L391.82 92.19 L389.36 92.22 L386.85 92.34 L384.30 92.55 L381.73 92.85 L379.14 93.25 L376.53 93.73 L373.92 94.29 L371.31 94.95 L368.70 95.68 L366.11 96.50 L363.54 97.40 L361.00 98.38 L358.49 99.43 L356.03 100.55 L353.62 101.74 L351.26 103.00 L348.97 104.31 L346.75 105.69 L344.59 107.12 L342.53 108.60 L340.54 110.13 L338.65 111.70 L336.86 113.30 L335.17 114.95 L333.58 116.62 L332.11 118.31 L330.75 120.02 L329.51 121.75 L328.39 123.49 L327.39 125.24 L326.53 126.99 L325.79 128.73 L325.19 130.46 L324.72 132.18 L324.39 133.89 L324.19 135.57 L324.13 137.22 L324.21 138.84 L324.42 140.42 L324.77 141.97 L325.25 143.46 L325.87 144.91 L326.62 146.31 L327.50 147.65 L328.51 148.93 L329.64 150.14 L330.89 151.29Z" stroke="#303030" stroke-width="1.0"/>
<ellipse cx="446.6" cy="105.9" rx="55.5" ry="25.45" transform="rotate(0.6 446.6 105.9)" stroke="#000" stroke-width="2"/>
<path d="M536.58 -12.45 C536.28 -11.15 535.46 -7.23 534.78 -4.65 C534.10 -2.08 533.04 0.70 532.50 2.98 C531.95 5.27 531.86 7.10 531.53 9.08 C531.19 11.05 530.86 12.96 530.48 14.85 C530.11 16.74 529.54 18.69 529.27 20.40 C529.00 22.10 529.05 23.53 528.87 25.08 C528.70 26.63 528.48 28.17 528.22 29.69 C527.96 31.21 527.48 32.82 527.31 34.22 C527.14 35.62 527.24 36.81 527.18 38.08 C527.11 39.35 527.03 40.60 526.92 41.85 C526.80 43.10 526.65 44.33 526.46 45.56 C526.28 46.79 525.91 48.07 525.82 49.21 C525.74 50.34 525.92 51.32 525.93 52.37 C525.94 53.41 525.93 54.46 525.89 55.49 C525.85 56.53 525.74 57.57 525.70 58.57 C525.66 59.58 525.65 60.55 525.65 61.51 C525.66 62.46 525.72 63.38 525.73 64.32 C525.73 65.25 525.71 66.17 525.67 67.10 C525.64 68.02 525.58 68.93 525.50 69.84 C525.43 70.75 525.32 71.66 525.21 72.56 C525.11 73.45 524.96 74.35 524.88 75.22 C524.81 76.08 524.81 76.92 524.75 77.76 C524.69 78.60 524.61 79.44 524.52 80.28 C524.42 81.11 524.30 81.94 524.18 82.77 C524.07 83.59 523.93 84.40 523.83 85.21 C523.74 86.01 523.71 86.79 523.63 87.58 C523.54 88.37 523.44 89.15 523.33 89.93 C523.21 90.71 523.08 91.48 522.94 92.25 C522.79 93.02 522.63 93.79 522.46 94.55 C522.28 95.31 522.05 96.07 521.89 96.82 C521.73 97.57 521.64 98.31 521.50 99.05 C521.36 99.78 521.20 100.52 521.03 101.25 C520.86 101.98 520.67 102.70 520.47 103.43 C520.27 104.15 520.04 104.87 519.84 105.58 C519.63 106.29 519.43 107.00 519.25 107.71 C519.06 108.41 518.91 109.12 518.73 109.82 C518.54 110.52 518.34 111.21 518.13 111.91 C517.91 112.60 517.69 113.29 517.45 113.98 C517.21 114.66 516.96 115.34 516.70 116.02 C516.44 116.70 516.20 117.38 515.88 118.05 C515.56 118.72 515.19 119.38 514.78 120.03 C514.37 120.67 513.88 121.31 513.44 121.94 C513.00 122.58 512.54 123.21 512.12 123.84 C511.69 124.46 511.31 125.10 510.89 125.72 C510.47 126.34 510.04 126.95 509.60 127.56 C509.15 128.17 508.68 128.77 508.24 129.38 C507.80 129.98 507.41 130.59 506.98 131.19 C506.56 131.79 506.13 132.39 505.69 132.98 C505.25 133.57 504.79 134.16 504.33 134.74 C503.87 135.32 503.39 135.89 502.91 136.46 C502.44 137.03 501.97 137.61 501.50 138.17 C501.02 138.74 500.54 139.30 500.05 139.86 C499.56 140.42 499.05 140.97 498.54 141.51 C498.03 142.06 497.50 142.60 496.98 143.14 C496.46 143.67 495.94 144.21 495.41 144.74 C494.88 145.28 494.35 145.80 493.80 146.33 C493.26 146.85 492.70 147.36 492.14 147.87 C491.57 148.38 491.00 148.89 490.42 149.39 C489.84 149.88 489.25 150.38 488.65 150.86 C488.06 151.35 487.45 151.83 486.84 152.30 C486.22 152.78 485.60 153.25 484.97 153.71 C484.34 154.17 483.70 154.62 483.05 155.07 C482.41 155.52 481.75 155.96 481.09 156.40 C480.43 156.83 479.77 157.26 479.10 157.69 C478.42 158.11 477.75 158.53 477.06 158.94 C476.38 159.36 475.69 159.76 474.99 160.16 C474.29 160.56 473.59 160.95 472.88 161.33 C472.17 161.72 471.45 162.10 470.72 162.47 C470.00 162.84 469.27 163.20 468.53 163.56 C467.80 163.91 467.06 164.26 466.31 164.60 C465.56 164.94 464.80 165.27 464.03 165.59 C463.27 165.90 462.49 166.21 461.71 166.51 C460.94 166.82 460.16 167.11 459.38 167.41 C458.60 167.70 457.83 168.00 457.05 168.29 C456.26 168.58 455.48 168.86 454.69 169.13 C453.89 169.40 453.10 169.66 452.30 169.92 C451.50 170.18 450.70 170.43 449.89 170.67 C449.08 170.91 448.27 171.14 447.46 171.37 C446.64 171.59 445.82 171.81 445.00 172.02 C444.18 172.23 443.35 172.43 442.53 172.62 C441.70 172.82 440.87 173.00 440.04 173.18 C439.20 173.36 438.37 173.53 437.53 173.69 C436.69 173.86 435.85 174.00 435.01 174.16 C434.17 174.31 433.34 174.49 432.51 174.64 C431.67 174.79 430.83 174.94 429.99 175.08 C429.14 175.22 428.30 175.35 427.45 175.47 C426.61 175.59 425.76 175.70 424.91 175.81 C424.06 175.92 423.21 176.01 422.35 176.10 C421.50 176.19 420.65 176.28 419.79 176.35 C418.94 176.42 418.08 176.49 417.22 176.55 C416.37 176.61 415.51 176.66 414.65 176.70 C413.79 176.74 412.93 176.78 412.07 176.80 C411.21 176.83 410.35 176.85 409.49 176.86 C408.64 176.87 407.78 176.88 406.92 176.88 C406.06 176.88 405.20 176.87 404.34 176.85 C403.48 176.84 402.63 176.81 401.77 176.78 C400.91 176.75 400.06 176.70 399.20 176.66 C398.35 176.61 397.49 176.55 396.64 176.49 C395.79 176.42 394.94 176.35 394.09 176.27 C393.24 176.19 392.39 176.10 391.55 176.00 C390.70 175.91 389.86 175.80 389.02 175.69 C388.18 175.58 387.34 175.46 386.50 175.33 C385.66 175.20 384.83 175.07 384.00 174.93 C383.17 174.79 382.34 174.64 381.51 174.49 C380.69 174.33 379.86 174.17 379.04 174.00 C378.22 173.83 377.41 173.65 376.59 173.46 C375.78 173.28 374.97 173.08 374.17 172.88 C373.36 172.68 372.56 172.47 371.76 172.26 C370.96 172.04 370.17 171.82 369.38 171.59 C368.59 171.36 367.81 171.12 367.03 170.88 C366.25 170.63 365.47 170.38 364.70 170.12 C363.93 169.86 363.17 169.60 362.41 169.32 C361.65 169.05 360.89 168.77 360.14 168.48 C359.39 168.20 358.65 167.90 357.91 167.60 C357.17 167.30 356.43 167.00 355.70 166.69 C354.98 166.37 354.25 166.05 353.54 165.73 C352.82 165.40 352.11 165.07 351.41 164.73 C350.70 164.39 350.01 164.04 349.32 163.69 C348.62 163.34 347.94 162.98 347.26 162.62 C346.59 162.25 345.92 161.88 345.25 161.50 C344.59 161.13 343.93 160.74 343.28 160.35 C342.63 159.96 341.99 159.57 341.36 159.17 C340.72 158.77 340.10 158.36 339.48 157.95 C338.86 157.53 338.25 157.12 337.64 156.69 C337.04 156.27 336.44 155.84 335.86 155.40 C335.27 154.97 334.69 154.53 334.12 154.08 C333.55 153.64 332.98 153.19 332.43 152.73 C331.88 152.28 331.33 151.81 330.79 151.35 C330.26 150.88 329.73 150.41 329.21 149.94 C328.69 149.46 328.18 148.98 327.67 148.50 C327.17 148.01 326.68 147.52 326.20 147.03 C325.71 146.53 325.24 146.03 324.77 145.53 C324.31 145.03 323.84 144.53 323.39 144.02 C322.94 143.51 322.49 143.00 322.05 142.49 C321.62 141.97 321.19 141.45 320.78 140.93 C320.36 140.40 319.95 139.88 319.55 139.35 C319.16 138.82 318.77 138.28 318.39 137.74 C318.01 137.20 317.65 136.66 317.29 136.12 C316.93 135.57 316.58 135.03 316.25 134.47 C315.91 133.92 315.58 133.37 315.26 132.81 C314.95 132.25 314.64 131.69 314.34 131.13 C314.05 130.57 313.76 130.00 313.48 129.43 C313.21 128.86 312.94 128.29 312.69 127.72 C312.43 127.15 312.19 126.57 311.96 125.99 C311.72 125.41 311.50 124.83 311.29 124.25 C311.08 123.67 310.88 123.08 310.69 122.50 C310.50 121.91 310.32 121.33 310.15 120.74 C309.98 120.15 309.82 119.56 309.67 118.96 C309.53 118.37 309.39 117.78 309.27 117.18 C309.14 116.59 309.03 115.99 308.92 115.40 C308.82 114.80 308.73 114.20 308.65 113.60 C308.57 113.01 308.50 112.41 308.44 111.81 C308.38 111.21 308.33 110.61 308.29 110.01 C308.26 109.40 308.23 108.80 308.21 108.20 C308.20 107.60 308.20 107.00 308.21 106.40 C308.21 105.80 308.23 105.20 308.27 104.60 C308.30 103.99 308.34 103.39 308.39 102.79 C308.45 102.19 308.51 101.59 308.59 101.00 C308.66 100.40 308.75 99.80 308.84 99.20 C308.94 98.60 309.05 98.01 309.17 97.41 C309.29 96.82 309.42 96.22 309.56 95.63 C309.70 95.04 309.85 94.45 310.02 93.86 C310.18 93.27 310.35 92.68 310.54 92.09 C310.72 91.51 310.92 90.92 311.13 90.34 C311.33 89.76 311.55 89.18 311.78 88.60 C312.00 88.02 312.24 87.44 312.49 86.87 C312.74 86.29 313.00 85.72 313.27 85.15 C313.54 84.58 313.82 84.01 314.11 83.45 C314.40 82.89 314.70 82.32 315.01 81.77 C315.33 81.21 315.65 80.65 315.98 80.10 C316.31 79.55 316.65 79.00 317.01 78.45 C317.36 77.90 317.72 77.36 318.09 76.82 C318.46 76.28 318.85 75.75 319.24 75.21 C319.63 74.68 320.03 74.15 320.44 73.63 C320.86 73.10 321.28 72.58 321.71 72.07 C322.14 71.55 322.58 71.04 323.03 70.53 C323.48 70.02 323.94 69.51 324.40 69.01 C324.87 68.51 325.35 68.02 325.83 67.53 C326.32 67.04 326.82 66.55 327.32 66.07 C327.82 65.58 328.34 65.11 328.86 64.63 C329.38 64.16 329.91 63.69 330.45 63.23 C330.99 62.77 331.54 62.31 332.09 61.86 C332.65 61.41 333.21 60.96 333.79 60.52 C334.36 60.08 334.94 59.64 335.53 59.21 C336.11 58.78 336.71 58.35 337.31 57.93 C337.92 57.51 338.53 57.10 339.15 56.69 C339.77 56.28 340.40 55.88 341.03 55.48 C341.66 55.08 342.31 54.69 342.95 54.31 C343.60 53.92 344.26 53.54 344.92 53.17 C345.58 52.80 346.25 52.43 346.93 52.07 C347.60 51.71 348.29 51.36 348.97 51.01 C349.66 50.66 350.36 50.32 351.06 49.99 C351.76 49.65 352.47 49.32 353.18 49.00 C353.90 48.68 354.61 48.37 355.34 48.06 C356.06 47.75 356.80 47.45 357.53 47.15 C358.27 46.86 359.01 46.57 359.76 46.29 C360.50 46.01 361.25 45.74 362.01 45.47 C362.77 45.20 363.53 44.94 364.29 44.69 C365.06 44.44 365.83 44.19 366.61 43.95 C367.38 43.72 368.16 43.49 368.95 43.26 C369.73 43.04 370.52 42.82 371.31 42.61 C372.10 42.40 372.90 42.20 373.69 42.01 C374.49 41.81 375.30 41.63 376.10 41.45 C376.91 41.27 377.72 41.10 378.53 40.93 C379.34 40.77 380.16 40.61 380.97 40.46 C381.79 40.31 382.61 40.17 383.44 40.04 C384.26 39.90 385.08 39.78 385.91 39.66 C386.74 39.54 387.57 39.43 388.40 39.33 C389.23 39.22 390.07 39.13 390.90 39.04 C391.74 38.95 392.57 38.87 393.41 38.80 C394.25 38.73 395.09 38.67 395.93 38.61 C396.77 38.55 397.61 38.51 398.45 38.46 C399.30 38.42 400.14 38.39 400.98 38.37 C401.82 38.34 402.67 38.32 403.51 38.31 C404.36 38.31 405.20 38.30 406.04 38.31 C406.89 38.31 407.73 38.33 408.58 38.35 C409.42 38.37 410.26 38.40 411.10 38.43 C411.95 38.47 412.79 38.52 413.63 38.57 C414.47 38.62 415.31 38.68 416.15 38.75 C416.99 38.82 417.82 38.89 418.66 38.98 C419.49 39.06 420.33 39.15 421.16 39.25 C421.99 39.35 422.82 39.45 423.65 39.57 C424.48 39.68 425.31 39.81 426.13 39.94 C426.96 40.06 427.78 40.20 428.60 40.35 C429.41 40.49 430.23 40.64 431.04 40.81 C431.86 40.97 432.67 41.13 433.47 41.31 C434.28 41.48 435.09 41.67 435.89 41.86 C436.69 42.05 437.48 42.24 438.28 42.45 C439.07 42.65 439.86 42.87 440.64 43.09 C441.43 43.31 442.21 43.53 442.99 43.77 C443.76 44.00 444.54 44.24 445.30 44.49 C446.07 44.74 446.84 45.00 447.59 45.26 C448.35 45.52 449.11 45.79 449.86 46.07 C450.60 46.35 451.71 46.78 452.09 46.92" stroke="#000" stroke-width="1.4" stroke-dasharray="2.4 1.3"/>
</g>
<g stroke="#383838" fill="none">
<rect x="264.5" y="7.5" width="281.0" height="199.0" stroke-width="1"/>
<path d="M269.40 7.50v5.30 M269.40 206.50v-5.30 M279.10 7.50v5.30 M279.10 206.50v-5.30 M288.80 7.50v5.30 M288.80 206.50v-5.30 M298.50 7.50v5.30 M298.50 206.50v-5.30 M308.20 7.50v10.50 M308.20 206.50v-10.50 M317.90 7.50v5.30 M317.90 206.50v-5.30 M327.60 7.50v5.30 M327.60 206.50v-5.30 M337.30 7.50v5.30 M337.30 206.50v-5.30 M347.00 7.50v5.30 M347.00 206.50v-5.30 M356.70 7.50v5.30 M356.70 206.50v-5.30 M366.40 7.50v5.30 M366.40 206.50v-5.30 M376.10 7.50v5.30 M376.10 206.50v-5.30 M385.80 7.50v5.30 M385.80 206.50v-5.30 M395.50 7.50v5.30 M395.50 206.50v-5.30 M405.20 7.50v10.50 M405.20 206.50v-10.50 M414.90 7.50v5.30 M414.90 206.50v-5.30 M424.60 7.50v5.30 M424.60 206.50v-5.30 M434.30 7.50v5.30 M434.30 206.50v-5.30 M444.00 7.50v5.30 M444.00 206.50v-5.30 M453.70 7.50v5.30 M453.70 206.50v-5.30 M463.40 7.50v5.30 M463.40 206.50v-5.30 M473.10 7.50v5.30 M473.10 206.50v-5.30 M482.80 7.50v5.30 M482.80 206.50v-5.30 M492.50 7.50v5.30 M492.50 206.50v-5.30 M502.20 7.50v10.50 M502.20 206.50v-10.50 M511.90 7.50v5.30 M511.90 206.50v-5.30 M521.60 7.50v5.30 M521.60 206.50v-5.30 M531.30 7.50v5.30 M531.30 206.50v-5.30 M541.00 7.50v5.30 M541.00 206.50v-5.30 M264.50 203.46h5.30 M545.50 203.46h-5.30 M264.50 189.68h5.30 M545.50 189.68h-5.30 M264.50 175.90h10.50 M545.50 175.90h-10.50 M264.50 162.12h5.30 M545.50 162.12h-5.30 M264.50 148.34h5.30 M545.50 148.34h-5.30 M264.50 134.56h5.30 M545.50 134.56h-5.30 M264.50 120.78h5.30 M545.50 120.78h-5.30 M264.50 107.00h10.50 M545.50 107.00h-10.50 M264.50 93.22h5.30 M545.50 93.22h-5.30 M264.50 79.44h5.30 M545.50 79.44h-5.30 M264.50 65.66h5.30 M545.50 65.66h-5.30 M264.50 51.88h5.30 M545.50 51.88h-5.30 M264.50 38.10h10.50 M545.50 38.10h-10.50 M264.50 24.32h5.30 M545.50 24.32h-5.30 M264.50 10.54h5.30 M545.50 10.54h-5.30" stroke-width="0.9"/>
</g>
<g fill="#1a1a1a" stroke="#1a1a1a" stroke-width="0.25">
<text x="301.75" y="220.60" font-size="10.20" textLength="10.60" lengthAdjust="spacingAndGlyphs">−1</text>
<text x="405.2" y="220.8" font-size="10.2" text-anchor="middle">0</text>
<text x="502.3" y="220.8" font-size="10.2" text-anchor="middle">1</text>
<text x="247.25" y="179.20" font-size="10.20" textLength="11.00" lengthAdjust="spacingAndGlyphs">−1</text>
<text x="259.2" y="110.6" font-size="10.2" text-anchor="end">0</text>
<text x="259.0" y="41.8" font-size="10.2" text-anchor="end">1</text>
<text x="397.35" y="234.90" font-size="9.40" textLength="11.80" lengthAdjust="spacingAndGlyphs">x/r</text>
<text x="408.9" y="238.6" font-size="5.6">0</text>
<g transform="translate(240.0,114.8) rotate(-90)"><text x="-0.35" y="0.00" font-size="9.00" textLength="11.70" lengthAdjust="spacingAndGlyphs">y/r</text><text x="11.6" y="3.4" font-size="5.6">0</text></g>
</g>
</svg></body></html>
